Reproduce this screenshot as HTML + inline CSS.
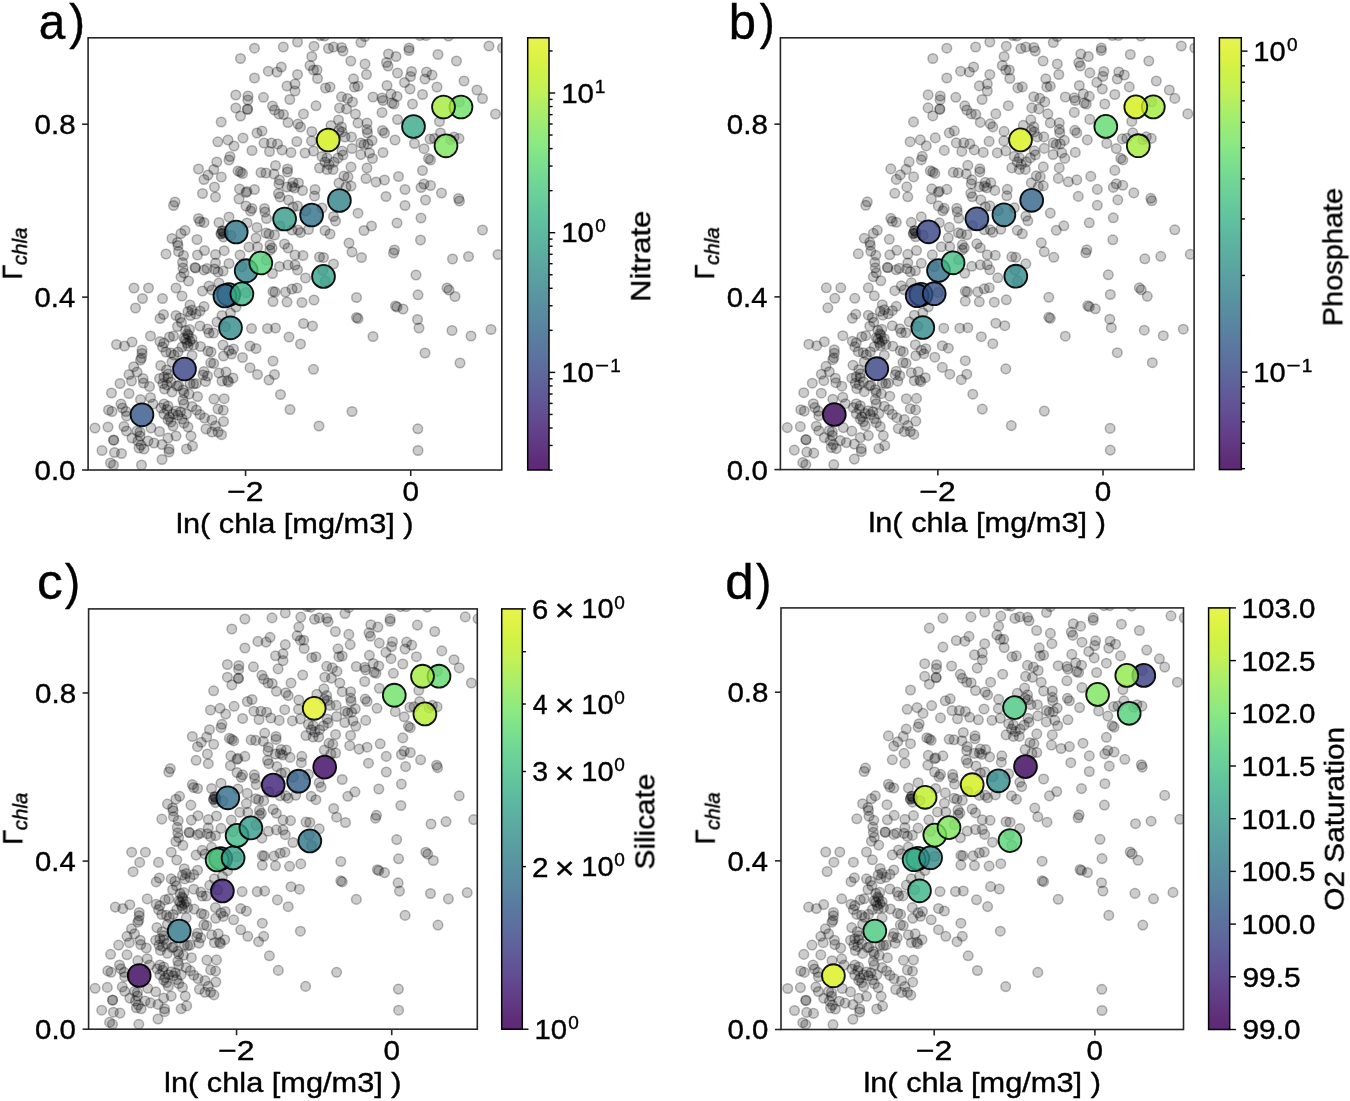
<!DOCTYPE html>
<html><head><meta charset="utf-8"><style>
html,body{margin:0;padding:0;background:#fff;width:1350px;height:1101px;overflow:hidden}
svg{display:block;font-family:"Liberation Sans", sans-serif}
text{will-change:transform;stroke:#000;stroke-width:0.4px}
</style></head><body>
<svg width="1350" height="1101" viewBox="0 0 1350 1101">
<rect width="1350" height="1101" fill="#fff"/>
<defs><linearGradient id="vir" x1="0" y1="1" x2="0" y2="0"><stop offset="0.0000" stop-color="#5e2876"/><stop offset="0.0250" stop-color="#5f2d78"/><stop offset="0.0500" stop-color="#61357f"/><stop offset="0.0750" stop-color="#623d87"/><stop offset="0.1000" stop-color="#62448c"/><stop offset="0.1250" stop-color="#624c92"/><stop offset="0.1500" stop-color="#625396"/><stop offset="0.1750" stop-color="#615a98"/><stop offset="0.2000" stop-color="#5f629b"/><stop offset="0.2250" stop-color="#5e699d"/><stop offset="0.2500" stop-color="#5c709e"/><stop offset="0.2750" stop-color="#5b769f"/><stop offset="0.3000" stop-color="#5a7c9f"/><stop offset="0.3250" stop-color="#5983a0"/><stop offset="0.3500" stop-color="#5989a0"/><stop offset="0.3750" stop-color="#588fa0"/><stop offset="0.4000" stop-color="#5995a0"/><stop offset="0.4250" stop-color="#5a9ba1"/><stop offset="0.4500" stop-color="#5aa1a1"/><stop offset="0.4750" stop-color="#5ba7a1"/><stop offset="0.5000" stop-color="#5caea0"/><stop offset="0.5250" stop-color="#5cb4a0"/><stop offset="0.5500" stop-color="#5dbaa0"/><stop offset="0.5750" stop-color="#5fc19f"/><stop offset="0.6000" stop-color="#63c69d"/><stop offset="0.6250" stop-color="#69cd9b"/><stop offset="0.6500" stop-color="#6dd298"/><stop offset="0.6750" stop-color="#72d894"/><stop offset="0.7000" stop-color="#79de8f"/><stop offset="0.7250" stop-color="#80e38a"/><stop offset="0.7500" stop-color="#8ae884"/><stop offset="0.7750" stop-color="#93ea7c"/><stop offset="0.8000" stop-color="#9dec74"/><stop offset="0.8250" stop-color="#a9ee6b"/><stop offset="0.8500" stop-color="#b4ef61"/><stop offset="0.8750" stop-color="#c1f057"/><stop offset="0.9000" stop-color="#caf14f"/><stop offset="0.9250" stop-color="#d1f148"/><stop offset="0.9500" stop-color="#dbf244"/><stop offset="0.9750" stop-color="#e2f347"/><stop offset="1.0000" stop-color="#e8f34f"/></linearGradient></defs>
<clipPath id="clipa"><rect x="88.10" y="37.80" width="413.70" height="432.20"/></clipPath>
<g clip-path="url(#clipa)"><g fill="#000" fill-opacity="0.2" stroke="#000" stroke-opacity="0.28" stroke-width="1.5"><circle cx="221.2" cy="122.0" r="4.8"/><circle cx="217.8" cy="141.8" r="4.8"/><circle cx="254.5" cy="48.2" r="4.8"/><circle cx="240.5" cy="58.5" r="4.8"/><circle cx="283.3" cy="47.0" r="4.8"/><circle cx="297.5" cy="42.0" r="4.8"/><circle cx="314.0" cy="46.2" r="4.8"/><circle cx="320.5" cy="35.5" r="4.8"/><circle cx="324.5" cy="36.0" r="4.8"/><circle cx="328.5" cy="48.5" r="4.8"/><circle cx="333.5" cy="47.0" r="4.8"/><circle cx="341.5" cy="47.5" r="4.8"/><circle cx="343.0" cy="51.0" r="4.8"/><circle cx="311.8" cy="56.5" r="4.8"/><circle cx="350.8" cy="61.0" r="4.8"/><circle cx="281.3" cy="67.0" r="4.8"/><circle cx="268.3" cy="71.2" r="4.8"/><circle cx="277.0" cy="72.0" r="4.8"/><circle cx="297.5" cy="74.5" r="4.8"/><circle cx="310.0" cy="65.5" r="4.8"/><circle cx="313.5" cy="70.0" r="4.8"/><circle cx="317.0" cy="70.0" r="4.8"/><circle cx="317.5" cy="78.5" r="4.8"/><circle cx="254.5" cy="78.0" r="4.8"/><circle cx="287.0" cy="86.0" r="4.8"/><circle cx="295.0" cy="84.0" r="4.8"/><circle cx="295.0" cy="91.0" r="4.8"/><circle cx="325.5" cy="88.0" r="4.8"/><circle cx="330.0" cy="87.0" r="4.8"/><circle cx="353.5" cy="78.8" r="4.8"/><circle cx="354.5" cy="87.0" r="4.8"/><circle cx="235.8" cy="95.0" r="4.8"/><circle cx="248.0" cy="96.0" r="4.8"/><circle cx="247.8" cy="100.0" r="4.8"/><circle cx="263.5" cy="97.3" r="4.8"/><circle cx="289.8" cy="99.5" r="4.8"/><circle cx="235.8" cy="108.0" r="4.8"/><circle cx="247.5" cy="109.0" r="4.8"/><circle cx="247.5" cy="109.5" r="4.8"/><circle cx="240.5" cy="116.0" r="4.8"/><circle cx="272.5" cy="106.0" r="4.8"/><circle cx="274.5" cy="110.0" r="4.8"/><circle cx="279.0" cy="114.0" r="4.8"/><circle cx="283.5" cy="114.5" r="4.8"/><circle cx="288.0" cy="122.5" r="4.8"/><circle cx="298.0" cy="124.0" r="4.8"/><circle cx="300.5" cy="127.0" r="4.8"/><circle cx="303.5" cy="114.0" r="4.8"/><circle cx="316.0" cy="105.8" r="4.8"/><circle cx="341.5" cy="96.8" r="4.8"/><circle cx="347.5" cy="98.5" r="4.8"/><circle cx="352.5" cy="102.0" r="4.8"/><circle cx="339.5" cy="108.0" r="4.8"/><circle cx="346.5" cy="109.0" r="4.8"/><circle cx="355.5" cy="114.0" r="4.8"/><circle cx="358.0" cy="123.0" r="4.8"/><circle cx="338.5" cy="120.0" r="4.8"/><circle cx="331.0" cy="125.5" r="4.8"/><circle cx="341.5" cy="127.0" r="4.8"/><circle cx="339.0" cy="130.5" r="4.8"/><circle cx="342.0" cy="132.0" r="4.8"/><circle cx="311.8" cy="131.5" r="4.8"/><circle cx="345.0" cy="137.0" r="4.8"/><circle cx="351.5" cy="137.0" r="4.8"/><circle cx="257.0" cy="133.0" r="4.8"/><circle cx="262.0" cy="131.0" r="4.8"/><circle cx="243.0" cy="138.0" r="4.8"/><circle cx="228.0" cy="140.0" r="4.8"/><circle cx="234.0" cy="146.0" r="4.8"/><circle cx="264.0" cy="143.0" r="4.8"/><circle cx="271.5" cy="143.0" r="4.8"/><circle cx="277.5" cy="144.0" r="4.8"/><circle cx="296.8" cy="141.5" r="4.8"/><circle cx="311.5" cy="141.0" r="4.8"/><circle cx="358.0" cy="86.2" r="4.8"/><circle cx="361.0" cy="42.5" r="4.8"/><circle cx="365.0" cy="36.5" r="4.8"/><circle cx="420.0" cy="35.5" r="4.8"/><circle cx="426.0" cy="35.5" r="4.8"/><circle cx="448.5" cy="36.0" r="4.8"/><circle cx="409.0" cy="48.0" r="4.8"/><circle cx="409.0" cy="50.5" r="4.8"/><circle cx="388.5" cy="54.0" r="4.8"/><circle cx="396.0" cy="56.5" r="4.8"/><circle cx="386.5" cy="62.5" r="4.8"/><circle cx="388.0" cy="66.0" r="4.8"/><circle cx="365.0" cy="64.0" r="4.8"/><circle cx="366.5" cy="74.5" r="4.8"/><circle cx="397.5" cy="73.0" r="4.8"/><circle cx="411.5" cy="71.5" r="4.8"/><circle cx="410.5" cy="76.5" r="4.8"/><circle cx="404.5" cy="82.5" r="4.8"/><circle cx="410.0" cy="89.0" r="4.8"/><circle cx="426.5" cy="72.0" r="4.8"/><circle cx="432.0" cy="75.0" r="4.8"/><circle cx="425.0" cy="79.0" r="4.8"/><circle cx="437.0" cy="87.0" r="4.8"/><circle cx="422.5" cy="94.5" r="4.8"/><circle cx="438.0" cy="54.5" r="4.8"/><circle cx="456.5" cy="61.0" r="4.8"/><circle cx="489.0" cy="46.0" r="4.8"/><circle cx="464.0" cy="81.0" r="4.8"/><circle cx="477.0" cy="90.0" r="4.8"/><circle cx="482.5" cy="98.5" r="4.8"/><circle cx="387.0" cy="85.5" r="4.8"/><circle cx="373.0" cy="97.0" r="4.8"/><circle cx="382.0" cy="98.0" r="4.8"/><circle cx="383.0" cy="100.5" r="4.8"/><circle cx="391.0" cy="94.0" r="4.8"/><circle cx="397.0" cy="96.5" r="4.8"/><circle cx="392.0" cy="103.0" r="4.8"/><circle cx="394.0" cy="104.0" r="4.8"/><circle cx="412.5" cy="104.0" r="4.8"/><circle cx="382.0" cy="112.5" r="4.8"/><circle cx="397.5" cy="119.5" r="4.8"/><circle cx="367.0" cy="123.0" r="4.8"/><circle cx="367.0" cy="129.5" r="4.8"/><circle cx="367.5" cy="133.0" r="4.8"/><circle cx="382.5" cy="130.5" r="4.8"/><circle cx="384.5" cy="133.0" r="4.8"/><circle cx="372.0" cy="140.5" r="4.8"/><circle cx="395.0" cy="140.0" r="4.8"/><circle cx="414.5" cy="143.5" r="4.8"/><circle cx="424.0" cy="148.7" r="4.8"/><circle cx="430.0" cy="139.0" r="4.8"/><circle cx="434.5" cy="138.5" r="4.8"/><circle cx="440.5" cy="133.0" r="4.8"/><circle cx="454.0" cy="137.0" r="4.8"/><circle cx="459.0" cy="138.5" r="4.8"/><circle cx="439.5" cy="121.5" r="4.8"/><circle cx="361.0" cy="143.0" r="4.8"/><circle cx="364.0" cy="144.5" r="4.8"/><circle cx="368.0" cy="144.0" r="4.8"/><circle cx="502.5" cy="48.0" r="4.8"/><circle cx="495.5" cy="114.0" r="4.8"/><circle cx="216.8" cy="162.0" r="4.8"/><circle cx="213.8" cy="169.5" r="4.8"/><circle cx="208.0" cy="175.0" r="4.8"/><circle cx="204.0" cy="179.5" r="4.8"/><circle cx="221.3" cy="177.0" r="4.8"/><circle cx="198.5" cy="169.0" r="4.8"/><circle cx="214.5" cy="187.0" r="4.8"/><circle cx="202.5" cy="193.5" r="4.8"/><circle cx="215.5" cy="197.0" r="4.8"/><circle cx="175.0" cy="202.0" r="4.8"/><circle cx="173.5" cy="205.5" r="4.8"/><circle cx="198.5" cy="218.5" r="4.8"/><circle cx="200.0" cy="221.5" r="4.8"/><circle cx="204.0" cy="222.5" r="4.8"/><circle cx="219.0" cy="222.5" r="4.8"/><circle cx="222.5" cy="231.0" r="4.8"/><circle cx="221.0" cy="234.0" r="4.8"/><circle cx="223.3" cy="237.0" r="4.8"/><circle cx="185.0" cy="230.5" r="4.8"/><circle cx="181.0" cy="233.5" r="4.8"/><circle cx="172.0" cy="238.5" r="4.8"/><circle cx="177.5" cy="242.5" r="4.8"/><circle cx="178.0" cy="245.5" r="4.8"/><circle cx="197.0" cy="239.5" r="4.8"/><circle cx="166.0" cy="254.0" r="4.8"/><circle cx="178.5" cy="251.5" r="4.8"/><circle cx="183.5" cy="255.5" r="4.8"/><circle cx="204.5" cy="250.5" r="4.8"/><circle cx="197.5" cy="255.0" r="4.8"/><circle cx="215.5" cy="254.5" r="4.8"/><circle cx="224.2" cy="250.7" r="4.8"/><circle cx="252.0" cy="150.5" r="4.8"/><circle cx="269.5" cy="151.5" r="4.8"/><circle cx="282.0" cy="150.0" r="4.8"/><circle cx="291.0" cy="152.5" r="4.8"/><circle cx="305.0" cy="153.0" r="4.8"/><circle cx="313.5" cy="151.0" r="4.8"/><circle cx="342.0" cy="151.0" r="4.8"/><circle cx="343.0" cy="155.0" r="4.8"/><circle cx="352.0" cy="148.5" r="4.8"/><circle cx="360.8" cy="154.6" r="4.8"/><circle cx="230.0" cy="156.5" r="4.8"/><circle cx="229.0" cy="160.0" r="4.8"/><circle cx="238.0" cy="171.0" r="4.8"/><circle cx="240.5" cy="172.0" r="4.8"/><circle cx="242.5" cy="173.5" r="4.8"/><circle cx="261.0" cy="172.5" r="4.8"/><circle cx="266.0" cy="173.0" r="4.8"/><circle cx="274.0" cy="174.0" r="4.8"/><circle cx="275.5" cy="165.5" r="4.8"/><circle cx="287.5" cy="169.0" r="4.8"/><circle cx="287.5" cy="172.0" r="4.8"/><circle cx="279.5" cy="180.0" r="4.8"/><circle cx="279.0" cy="184.0" r="4.8"/><circle cx="293.0" cy="182.5" r="4.8"/><circle cx="298.5" cy="183.0" r="4.8"/><circle cx="294.5" cy="188.0" r="4.8"/><circle cx="292.0" cy="186.5" r="4.8"/><circle cx="302.5" cy="190.5" r="4.8"/><circle cx="287.0" cy="187.0" r="4.8"/><circle cx="239.5" cy="189.0" r="4.8"/><circle cx="246.0" cy="192.5" r="4.8"/><circle cx="247.0" cy="191.5" r="4.8"/><circle cx="254.5" cy="189.5" r="4.8"/><circle cx="239.0" cy="199.0" r="4.8"/><circle cx="278.5" cy="193.5" r="4.8"/><circle cx="280.0" cy="197.0" r="4.8"/><circle cx="288.5" cy="200.0" r="4.8"/><circle cx="315.0" cy="189.5" r="4.8"/><circle cx="314.5" cy="196.0" r="4.8"/><circle cx="322.0" cy="156.5" r="4.8"/><circle cx="327.0" cy="158.0" r="4.8"/><circle cx="325.0" cy="162.0" r="4.8"/><circle cx="329.0" cy="164.5" r="4.8"/><circle cx="334.0" cy="162.0" r="4.8"/><circle cx="333.0" cy="169.5" r="4.8"/><circle cx="327.0" cy="169.5" r="4.8"/><circle cx="319.5" cy="168.0" r="4.8"/><circle cx="338.0" cy="158.0" r="4.8"/><circle cx="351.0" cy="167.0" r="4.8"/><circle cx="348.0" cy="177.0" r="4.8"/><circle cx="344.0" cy="176.0" r="4.8"/><circle cx="339.0" cy="183.0" r="4.8"/><circle cx="351.0" cy="186.0" r="4.8"/><circle cx="346.0" cy="187.0" r="4.8"/><circle cx="246.0" cy="206.0" r="4.8"/><circle cx="252.0" cy="208.5" r="4.8"/><circle cx="250.5" cy="211.0" r="4.8"/><circle cx="264.5" cy="208.5" r="4.8"/><circle cx="265.0" cy="212.0" r="4.8"/><circle cx="266.5" cy="218.5" r="4.8"/><circle cx="229.0" cy="217.0" r="4.8"/><circle cx="247.0" cy="223.0" r="4.8"/><circle cx="257.0" cy="227.5" r="4.8"/><circle cx="297.5" cy="206.0" r="4.8"/><circle cx="293.0" cy="207.0" r="4.8"/><circle cx="322.0" cy="208.0" r="4.8"/><circle cx="333.5" cy="216.5" r="4.8"/><circle cx="335.5" cy="221.0" r="4.8"/><circle cx="358.0" cy="213.2" r="4.8"/><circle cx="325.0" cy="230.5" r="4.8"/><circle cx="330.0" cy="234.0" r="4.8"/><circle cx="292.0" cy="230.0" r="4.8"/><circle cx="298.0" cy="230.0" r="4.8"/><circle cx="300.5" cy="232.5" r="4.8"/><circle cx="308.5" cy="229.5" r="4.8"/><circle cx="266.0" cy="233.0" r="4.8"/><circle cx="274.5" cy="235.0" r="4.8"/><circle cx="269.0" cy="234.0" r="4.8"/><circle cx="256.0" cy="238.0" r="4.8"/><circle cx="249.0" cy="247.0" r="4.8"/><circle cx="257.5" cy="247.0" r="4.8"/><circle cx="270.0" cy="245.0" r="4.8"/><circle cx="272.0" cy="248.0" r="4.8"/><circle cx="270.0" cy="250.0" r="4.8"/><circle cx="284.5" cy="244.0" r="4.8"/><circle cx="288.0" cy="248.0" r="4.8"/><circle cx="240.0" cy="255.0" r="4.8"/><circle cx="349.0" cy="243.0" r="4.8"/><circle cx="352.0" cy="252.0" r="4.8"/><circle cx="295.0" cy="255.0" r="4.8"/><circle cx="303.0" cy="255.5" r="4.8"/><circle cx="319.5" cy="257.0" r="4.8"/><circle cx="323.5" cy="257.5" r="4.8"/><circle cx="369.5" cy="153.0" r="4.8"/><circle cx="372.5" cy="158.5" r="4.8"/><circle cx="383.0" cy="152.5" r="4.8"/><circle cx="428.5" cy="158.5" r="4.8"/><circle cx="430.5" cy="160.0" r="4.8"/><circle cx="367.0" cy="168.0" r="4.8"/><circle cx="366.0" cy="178.5" r="4.8"/><circle cx="376.0" cy="182.0" r="4.8"/><circle cx="384.5" cy="180.0" r="4.8"/><circle cx="398.5" cy="176.5" r="4.8"/><circle cx="422.5" cy="170.5" r="4.8"/><circle cx="424.0" cy="184.0" r="4.8"/><circle cx="421.0" cy="187.5" r="4.8"/><circle cx="430.5" cy="185.5" r="4.8"/><circle cx="405.0" cy="189.5" r="4.8"/><circle cx="441.5" cy="193.0" r="4.8"/><circle cx="458.5" cy="198.5" r="4.8"/><circle cx="459.5" cy="201.0" r="4.8"/><circle cx="386.0" cy="196.5" r="4.8"/><circle cx="425.5" cy="200.0" r="4.8"/><circle cx="405.0" cy="205.5" r="4.8"/><circle cx="421.0" cy="218.0" r="4.8"/><circle cx="397.0" cy="223.0" r="4.8"/><circle cx="371.5" cy="226.0" r="4.8"/><circle cx="364.0" cy="230.5" r="4.8"/><circle cx="482.5" cy="230.0" r="4.8"/><circle cx="420.5" cy="240.0" r="4.8"/><circle cx="394.5" cy="250.0" r="4.8"/><circle cx="393.5" cy="253.0" r="4.8"/><circle cx="361.5" cy="257.5" r="4.8"/><circle cx="452.5" cy="259.0" r="4.8"/><circle cx="468.5" cy="256.5" r="4.8"/><circle cx="498.0" cy="254.5" r="4.8"/><circle cx="182.5" cy="262.5" r="4.8"/><circle cx="183.0" cy="268.0" r="4.8"/><circle cx="184.0" cy="273.0" r="4.8"/><circle cx="181.0" cy="277.0" r="4.8"/><circle cx="188.5" cy="281.0" r="4.8"/><circle cx="195.0" cy="267.5" r="4.8"/><circle cx="195.5" cy="268.0" r="4.8"/><circle cx="204.0" cy="270.0" r="4.8"/><circle cx="207.0" cy="268.5" r="4.8"/><circle cx="215.5" cy="263.0" r="4.8"/><circle cx="214.5" cy="269.0" r="4.8"/><circle cx="218.0" cy="272.0" r="4.8"/><circle cx="223.1" cy="271.0" r="4.8"/><circle cx="134.0" cy="288.0" r="4.8"/><circle cx="148.5" cy="288.0" r="4.8"/><circle cx="142.5" cy="298.5" r="4.8"/><circle cx="162.5" cy="298.5" r="4.8"/><circle cx="135.5" cy="308.0" r="4.8"/><circle cx="176.0" cy="288.0" r="4.8"/><circle cx="182.0" cy="296.0" r="4.8"/><circle cx="202.5" cy="291.0" r="4.8"/><circle cx="209.0" cy="286.0" r="4.8"/><circle cx="212.0" cy="290.0" r="4.8"/><circle cx="219.0" cy="283.0" r="4.8"/><circle cx="190.0" cy="305.0" r="4.8"/><circle cx="188.0" cy="311.5" r="4.8"/><circle cx="192.0" cy="310.0" r="4.8"/><circle cx="190.5" cy="315.5" r="4.8"/><circle cx="196.0" cy="314.0" r="4.8"/><circle cx="200.0" cy="311.0" r="4.8"/><circle cx="204.0" cy="306.5" r="4.8"/><circle cx="163.5" cy="314.5" r="4.8"/><circle cx="160.0" cy="318.5" r="4.8"/><circle cx="176.0" cy="315.5" r="4.8"/><circle cx="180.0" cy="318.0" r="4.8"/><circle cx="181.5" cy="322.5" r="4.8"/><circle cx="177.5" cy="326.5" r="4.8"/><circle cx="185.5" cy="330.5" r="4.8"/><circle cx="189.5" cy="329.5" r="4.8"/><circle cx="188.5" cy="335.5" r="4.8"/><circle cx="184.0" cy="338.0" r="4.8"/><circle cx="192.0" cy="339.0" r="4.8"/><circle cx="187.0" cy="343.0" r="4.8"/><circle cx="193.5" cy="345.0" r="4.8"/><circle cx="200.0" cy="326.0" r="4.8"/><circle cx="207.5" cy="329.0" r="4.8"/><circle cx="209.0" cy="333.0" r="4.8"/><circle cx="213.5" cy="333.0" r="4.8"/><circle cx="217.0" cy="322.0" r="4.8"/><circle cx="222.0" cy="315.5" r="4.8"/><circle cx="150.5" cy="336.0" r="4.8"/><circle cx="132.0" cy="342.0" r="4.8"/><circle cx="116.5" cy="344.5" r="4.8"/><circle cx="124.5" cy="346.0" r="4.8"/><circle cx="142.0" cy="350.0" r="4.8"/><circle cx="142.0" cy="353.5" r="4.8"/><circle cx="141.5" cy="358.0" r="4.8"/><circle cx="140.5" cy="360.0" r="4.8"/><circle cx="160.0" cy="341.5" r="4.8"/><circle cx="164.0" cy="343.0" r="4.8"/><circle cx="162.5" cy="347.0" r="4.8"/><circle cx="169.5" cy="337.0" r="4.8"/><circle cx="173.5" cy="336.0" r="4.8"/><circle cx="166.0" cy="352.0" r="4.8"/><circle cx="171.0" cy="353.0" r="4.8"/><circle cx="174.0" cy="355.0" r="4.8"/><circle cx="178.0" cy="352.0" r="4.8"/><circle cx="182.0" cy="347.0" r="4.8"/><circle cx="188.0" cy="346.0" r="4.8"/><circle cx="200.5" cy="346.5" r="4.8"/><circle cx="208.0" cy="351.0" r="4.8"/><circle cx="211.0" cy="352.0" r="4.8"/><circle cx="223.0" cy="345.0" r="4.8"/><circle cx="223.5" cy="356.0" r="4.8"/><circle cx="192.0" cy="355.5" r="4.8"/><circle cx="213.7" cy="363.5" r="4.8"/><circle cx="210.7" cy="362.8" r="4.8"/><circle cx="160.7" cy="365.5" r="4.8"/><circle cx="133.7" cy="366.7" r="4.8"/><circle cx="172.0" cy="362.0" r="4.8"/><circle cx="229.0" cy="263.5" r="4.8"/><circle cx="279.5" cy="266.5" r="4.8"/><circle cx="288.0" cy="265.0" r="4.8"/><circle cx="295.0" cy="265.0" r="4.8"/><circle cx="297.5" cy="270.0" r="4.8"/><circle cx="272.5" cy="273.5" r="4.8"/><circle cx="305.5" cy="278.0" r="4.8"/><circle cx="333.5" cy="264.0" r="4.8"/><circle cx="273.0" cy="291.5" r="4.8"/><circle cx="275.0" cy="292.0" r="4.8"/><circle cx="285.5" cy="292.0" r="4.8"/><circle cx="292.0" cy="289.0" r="4.8"/><circle cx="297.0" cy="288.0" r="4.8"/><circle cx="273.0" cy="301.5" r="4.8"/><circle cx="287.0" cy="302.0" r="4.8"/><circle cx="302.0" cy="302.5" r="4.8"/><circle cx="314.0" cy="300.0" r="4.8"/><circle cx="356.5" cy="297.5" r="4.8"/><circle cx="356.5" cy="317.5" r="4.8"/><circle cx="358.0" cy="318.5" r="4.8"/><circle cx="236.0" cy="307.0" r="4.8"/><circle cx="230.5" cy="313.0" r="4.8"/><circle cx="251.5" cy="328.5" r="4.8"/><circle cx="267.5" cy="328.5" r="4.8"/><circle cx="275.5" cy="328.0" r="4.8"/><circle cx="303.5" cy="323.5" r="4.8"/><circle cx="312.5" cy="326.0" r="4.8"/><circle cx="289.0" cy="337.0" r="4.8"/><circle cx="300.5" cy="344.0" r="4.8"/><circle cx="250.0" cy="346.0" r="4.8"/><circle cx="256.0" cy="348.5" r="4.8"/><circle cx="233.5" cy="349.0" r="4.8"/><circle cx="229.0" cy="350.5" r="4.8"/><circle cx="231.5" cy="354.0" r="4.8"/><circle cx="242.5" cy="357.5" r="4.8"/><circle cx="273.0" cy="361.0" r="4.8"/><circle cx="250.0" cy="367.7" r="4.8"/><circle cx="313.5" cy="369.3" r="4.8"/><circle cx="416.0" cy="275.0" r="4.8"/><circle cx="418.0" cy="294.8" r="4.8"/><circle cx="447.0" cy="288.0" r="4.8"/><circle cx="449.0" cy="290.0" r="4.8"/><circle cx="455.0" cy="296.5" r="4.8"/><circle cx="395.5" cy="306.0" r="4.8"/><circle cx="397.0" cy="307.0" r="4.8"/><circle cx="403.0" cy="309.0" r="4.8"/><circle cx="417.5" cy="319.5" r="4.8"/><circle cx="419.0" cy="328.0" r="4.8"/><circle cx="373.0" cy="336.5" r="4.8"/><circle cx="452.0" cy="330.5" r="4.8"/><circle cx="471.0" cy="336.0" r="4.8"/><circle cx="491.0" cy="329.5" r="4.8"/><circle cx="425.0" cy="353.0" r="4.8"/><circle cx="460.0" cy="363.0" r="4.8"/><circle cx="137.0" cy="372.0" r="4.8"/><circle cx="129.0" cy="374.5" r="4.8"/><circle cx="131.5" cy="381.0" r="4.8"/><circle cx="143.0" cy="378.5" r="4.8"/><circle cx="143.5" cy="383.0" r="4.8"/><circle cx="149.5" cy="386.5" r="4.8"/><circle cx="120.0" cy="383.5" r="4.8"/><circle cx="111.5" cy="393.0" r="4.8"/><circle cx="129.0" cy="393.5" r="4.8"/><circle cx="166.5" cy="370.0" r="4.8"/><circle cx="168.0" cy="374.0" r="4.8"/><circle cx="159.5" cy="378.5" r="4.8"/><circle cx="164.0" cy="377.0" r="4.8"/><circle cx="168.0" cy="378.0" r="4.8"/><circle cx="163.0" cy="383.5" r="4.8"/><circle cx="167.0" cy="385.0" r="4.8"/><circle cx="171.0" cy="382.0" r="4.8"/><circle cx="164.5" cy="389.0" r="4.8"/><circle cx="172.0" cy="392.0" r="4.8"/><circle cx="177.0" cy="386.0" r="4.8"/><circle cx="178.5" cy="385.5" r="4.8"/><circle cx="183.0" cy="390.0" r="4.8"/><circle cx="184.0" cy="393.0" r="4.8"/><circle cx="189.0" cy="394.0" r="4.8"/><circle cx="190.0" cy="383.5" r="4.8"/><circle cx="193.5" cy="384.0" r="4.8"/><circle cx="196.0" cy="383.5" r="4.8"/><circle cx="197.5" cy="396.5" r="4.8"/><circle cx="204.0" cy="371.5" r="4.8"/><circle cx="203.0" cy="375.0" r="4.8"/><circle cx="207.5" cy="376.0" r="4.8"/><circle cx="205.5" cy="381.5" r="4.8"/><circle cx="219.0" cy="373.0" r="4.8"/><circle cx="222.0" cy="381.0" r="4.8"/><circle cx="214.0" cy="399.0" r="4.8"/><circle cx="224.2" cy="398.7" r="4.8"/><circle cx="218.0" cy="409.0" r="4.8"/><circle cx="223.3" cy="410.3" r="4.8"/><circle cx="183.0" cy="400.0" r="4.8"/><circle cx="184.0" cy="404.0" r="4.8"/><circle cx="192.0" cy="406.5" r="4.8"/><circle cx="196.5" cy="410.0" r="4.8"/><circle cx="200.0" cy="414.5" r="4.8"/><circle cx="204.5" cy="418.0" r="4.8"/><circle cx="212.0" cy="420.0" r="4.8"/><circle cx="215.5" cy="426.0" r="4.8"/><circle cx="218.0" cy="432.0" r="4.8"/><circle cx="221.5" cy="434.7" r="4.8"/><circle cx="206.0" cy="429.0" r="4.8"/><circle cx="212.0" cy="432.0" r="4.8"/><circle cx="150.5" cy="397.5" r="4.8"/><circle cx="153.0" cy="404.0" r="4.8"/><circle cx="140.5" cy="399.5" r="4.8"/><circle cx="121.0" cy="404.0" r="4.8"/><circle cx="122.5" cy="408.0" r="4.8"/><circle cx="126.0" cy="411.5" r="4.8"/><circle cx="126.5" cy="416.0" r="4.8"/><circle cx="108.5" cy="410.0" r="4.8"/><circle cx="112.0" cy="411.5" r="4.8"/><circle cx="164.0" cy="404.0" r="4.8"/><circle cx="168.0" cy="406.0" r="4.8"/><circle cx="161.0" cy="408.0" r="4.8"/><circle cx="167.0" cy="409.5" r="4.8"/><circle cx="164.0" cy="414.0" r="4.8"/><circle cx="169.5" cy="417.0" r="4.8"/><circle cx="173.0" cy="414.0" r="4.8"/><circle cx="176.0" cy="411.0" r="4.8"/><circle cx="171.0" cy="422.0" r="4.8"/><circle cx="173.0" cy="426.0" r="4.8"/><circle cx="168.0" cy="419.5" r="4.8"/><circle cx="178.0" cy="415.0" r="4.8"/><circle cx="182.0" cy="419.0" r="4.8"/><circle cx="184.0" cy="423.0" r="4.8"/><circle cx="186.5" cy="414.0" r="4.8"/><circle cx="188.0" cy="427.0" r="4.8"/><circle cx="180.5" cy="412.0" r="4.8"/><circle cx="95.0" cy="428.0" r="4.8"/><circle cx="108.0" cy="427.0" r="4.8"/><circle cx="124.0" cy="426.5" r="4.8"/><circle cx="126.5" cy="431.0" r="4.8"/><circle cx="132.0" cy="438.0" r="4.8"/><circle cx="137.0" cy="431.0" r="4.8"/><circle cx="140.0" cy="432.0" r="4.8"/><circle cx="140.0" cy="436.0" r="4.8"/><circle cx="138.0" cy="441.0" r="4.8"/><circle cx="141.0" cy="445.0" r="4.8"/><circle cx="139.0" cy="448.0" r="4.8"/><circle cx="144.0" cy="449.0" r="4.8"/><circle cx="113.5" cy="440.0" r="4.8"/><circle cx="113.8" cy="440.2" r="4.8"/><circle cx="102.0" cy="450.5" r="4.8"/><circle cx="114.5" cy="452.5" r="4.8"/><circle cx="121.5" cy="453.5" r="4.8"/><circle cx="110.5" cy="463.0" r="4.8"/><circle cx="113.5" cy="465.0" r="4.8"/><circle cx="151.0" cy="428.0" r="4.8"/><circle cx="159.5" cy="431.5" r="4.8"/><circle cx="154.0" cy="443.0" r="4.8"/><circle cx="148.0" cy="441.0" r="4.8"/><circle cx="162.0" cy="444.5" r="4.8"/><circle cx="168.0" cy="438.0" r="4.8"/><circle cx="169.0" cy="449.0" r="4.8"/><circle cx="169.0" cy="452.0" r="4.8"/><circle cx="176.0" cy="436.0" r="4.8"/><circle cx="191.0" cy="436.0" r="4.8"/><circle cx="186.5" cy="449.0" r="4.8"/><circle cx="192.5" cy="446.0" r="4.8"/><circle cx="162.0" cy="459.5" r="4.8"/><circle cx="141.5" cy="465.0" r="4.8"/><circle cx="257.5" cy="374.5" r="4.8"/><circle cx="269.0" cy="380.0" r="4.8"/><circle cx="274.5" cy="374.5" r="4.8"/><circle cx="226.0" cy="372.0" r="4.8"/><circle cx="233.0" cy="378.0" r="4.8"/><circle cx="227.5" cy="380.5" r="4.8"/><circle cx="228.5" cy="382.0" r="4.8"/><circle cx="280.5" cy="394.5" r="4.8"/><circle cx="290.0" cy="409.5" r="4.8"/><circle cx="319.0" cy="426.0" r="4.8"/><circle cx="352.0" cy="411.5" r="4.8"/><circle cx="223.5" cy="421.5" r="4.8"/><circle cx="417.8" cy="428.8" r="4.8"/><circle cx="418.0" cy="450.5" r="4.8"/><circle cx="187.5" cy="334.0" r="4.8"/><circle cx="185.5" cy="339.5" r="4.8"/><circle cx="190.0" cy="341.0" r="4.8"/><circle cx="450.6" cy="139.6" r="4.8"/><circle cx="459.3" cy="101.9" r="4.8"/><circle cx="222.2" cy="230.9" r="4.8"/><circle cx="223.8" cy="232.8" r="4.8"/><circle cx="221.2" cy="233.4" r="4.8"/><circle cx="322.7" cy="270.4" r="4.8"/><circle cx="325.3" cy="281.1" r="4.8"/><circle cx="230.9" cy="235.4" r="4.8"/><circle cx="280.0" cy="226.0" r="4.8"/><circle cx="305.8" cy="210.9" r="4.8"/><circle cx="266.3" cy="260.0" r="4.8"/><circle cx="241.8" cy="266.8" r="4.8"/><circle cx="235.0" cy="294.0" r="4.8"/><circle cx="245.9" cy="292.6" r="4.8"/><circle cx="225.4" cy="326.7" r="4.8"/></g><g fill-opacity="0.8" stroke="#000" stroke-opacity="0.92" stroke-width="1.8"><circle cx="142.0" cy="414.8" r="11.45" fill="#325587"/><circle cx="184.5" cy="369.0" r="11.45" fill="#364183"/><circle cx="230.5" cy="327.8" r="11.45" fill="#318a8a"/><circle cx="228.7" cy="294.6" r="11.45" fill="#2e7488"/><circle cx="224.9" cy="295.9" r="11.45" fill="#306588"/><circle cx="241.9" cy="293.9" r="11.45" fill="#38b386"/><circle cx="246.2" cy="270.7" r="11.45" fill="#30818a"/><circle cx="260.8" cy="263.0" r="11.45" fill="#51d078"/><circle cx="236.2" cy="232.0" r="11.45" fill="#2e7488"/><circle cx="284.6" cy="219.0" r="11.45" fill="#339a88"/><circle cx="311.6" cy="215.0" r="11.45" fill="#2e6e88"/><circle cx="339.4" cy="200.5" r="11.45" fill="#30818a"/><circle cx="323.5" cy="276.4" r="11.45" fill="#33a088"/><circle cx="328.2" cy="140.0" r="11.45" fill="#d2ef15"/><circle cx="413.5" cy="126.5" r="11.45" fill="#35a988"/><circle cx="461.0" cy="107.0" r="11.45" fill="#6de265"/><circle cx="443.5" cy="107.0" r="11.45" fill="#a1eb3a"/><circle cx="446.0" cy="145.8" r="11.45" fill="#7be55a"/></g></g>
<line x1="245.57" y1="470.00" x2="245.57" y2="476.00" stroke="#262626" stroke-width="1.6" fill="none"/>
<text x="227.09" y="500.90" font-size="28.20" textLength="36.49" lengthAdjust="spacingAndGlyphs">−2</text>
<line x1="410.72" y1="470.00" x2="410.72" y2="476.00" stroke="#262626" stroke-width="1.6" fill="none"/>
<text x="402.46" y="500.90" font-size="28.20" textLength="16.52" lengthAdjust="spacingAndGlyphs">0</text>
<line x1="82.10" y1="470.00" x2="88.10" y2="470.00" stroke="#262626" stroke-width="1.6" fill="none"/>
<text x="34.55" y="479.90" font-size="28.20" textLength="40.90" lengthAdjust="spacingAndGlyphs">0.0</text>
<line x1="82.10" y1="297.12" x2="88.10" y2="297.12" stroke="#262626" stroke-width="1.6" fill="none"/>
<text x="34.56" y="307.02" font-size="28.20" textLength="40.60" lengthAdjust="spacingAndGlyphs">0.4</text>
<line x1="82.10" y1="124.24" x2="88.10" y2="124.24" stroke="#262626" stroke-width="1.6" fill="none"/>
<text x="34.55" y="134.14" font-size="28.20" textLength="41.04" lengthAdjust="spacingAndGlyphs">0.8</text>
<text x="176.13" y="532.80" font-size="27.40" textLength="237.48" lengthAdjust="spacingAndGlyphs">ln( chla [mg/m3] )</text>
<g transform="translate(21.80 253.90) rotate(-90)"><text x="-25.65" y="0.00" font-size="27.00" textLength="15.11" lengthAdjust="spacingAndGlyphs">Γ</text><text x="-11.27" y="5.00" font-size="20.60" font-style="italic" textLength="37.67" lengthAdjust="spacingAndGlyphs">chla</text></g>
<text x="38.67" y="39.30" font-size="50.00" textLength="26.53" lengthAdjust="spacingAndGlyphs">a</text>
<text x="69.32" y="39.30" font-size="50.00" textLength="15.83" lengthAdjust="spacingAndGlyphs">)</text>
<clipPath id="clipb"><rect x="780.40" y="37.80" width="413.70" height="431.80"/></clipPath>
<g clip-path="url(#clipb)"><g fill="#000" fill-opacity="0.2" stroke="#000" stroke-opacity="0.28" stroke-width="1.5"><circle cx="913.5" cy="121.9" r="4.8"/><circle cx="910.1" cy="141.7" r="4.8"/><circle cx="946.8" cy="48.2" r="4.8"/><circle cx="932.8" cy="58.5" r="4.8"/><circle cx="975.6" cy="47.0" r="4.8"/><circle cx="989.8" cy="42.0" r="4.8"/><circle cx="1006.3" cy="46.2" r="4.8"/><circle cx="1012.8" cy="35.5" r="4.8"/><circle cx="1016.8" cy="36.0" r="4.8"/><circle cx="1020.8" cy="48.5" r="4.8"/><circle cx="1025.8" cy="47.0" r="4.8"/><circle cx="1033.8" cy="47.5" r="4.8"/><circle cx="1035.3" cy="51.0" r="4.8"/><circle cx="1004.1" cy="56.5" r="4.8"/><circle cx="1043.1" cy="61.0" r="4.8"/><circle cx="973.6" cy="67.0" r="4.8"/><circle cx="960.6" cy="71.2" r="4.8"/><circle cx="969.3" cy="72.0" r="4.8"/><circle cx="989.8" cy="74.5" r="4.8"/><circle cx="1002.3" cy="65.5" r="4.8"/><circle cx="1005.8" cy="70.0" r="4.8"/><circle cx="1009.3" cy="70.0" r="4.8"/><circle cx="1009.8" cy="78.5" r="4.8"/><circle cx="946.8" cy="78.0" r="4.8"/><circle cx="979.3" cy="85.9" r="4.8"/><circle cx="987.3" cy="84.0" r="4.8"/><circle cx="987.3" cy="91.0" r="4.8"/><circle cx="1017.8" cy="87.9" r="4.8"/><circle cx="1022.3" cy="86.9" r="4.8"/><circle cx="1045.8" cy="78.8" r="4.8"/><circle cx="1046.8" cy="86.9" r="4.8"/><circle cx="928.1" cy="94.9" r="4.8"/><circle cx="940.3" cy="96.0" r="4.8"/><circle cx="940.1" cy="99.9" r="4.8"/><circle cx="955.8" cy="97.3" r="4.8"/><circle cx="982.1" cy="99.5" r="4.8"/><circle cx="928.1" cy="107.9" r="4.8"/><circle cx="939.8" cy="108.9" r="4.8"/><circle cx="939.8" cy="109.4" r="4.8"/><circle cx="932.8" cy="115.9" r="4.8"/><circle cx="964.8" cy="105.9" r="4.8"/><circle cx="966.8" cy="110.0" r="4.8"/><circle cx="971.3" cy="113.9" r="4.8"/><circle cx="975.8" cy="114.4" r="4.8"/><circle cx="980.3" cy="122.4" r="4.8"/><circle cx="990.3" cy="123.9" r="4.8"/><circle cx="992.8" cy="126.9" r="4.8"/><circle cx="995.8" cy="113.9" r="4.8"/><circle cx="1008.3" cy="105.7" r="4.8"/><circle cx="1033.8" cy="96.7" r="4.8"/><circle cx="1039.8" cy="98.4" r="4.8"/><circle cx="1044.8" cy="101.9" r="4.8"/><circle cx="1031.8" cy="107.9" r="4.8"/><circle cx="1038.8" cy="108.9" r="4.8"/><circle cx="1047.8" cy="113.9" r="4.8"/><circle cx="1050.3" cy="122.9" r="4.8"/><circle cx="1030.8" cy="119.9" r="4.8"/><circle cx="1023.3" cy="125.4" r="4.8"/><circle cx="1033.8" cy="126.9" r="4.8"/><circle cx="1031.3" cy="130.4" r="4.8"/><circle cx="1034.3" cy="131.9" r="4.8"/><circle cx="1004.1" cy="131.4" r="4.8"/><circle cx="1037.3" cy="136.9" r="4.8"/><circle cx="1043.8" cy="136.9" r="4.8"/><circle cx="949.3" cy="132.9" r="4.8"/><circle cx="954.3" cy="130.9" r="4.8"/><circle cx="935.3" cy="137.9" r="4.8"/><circle cx="920.3" cy="139.9" r="4.8"/><circle cx="926.3" cy="145.9" r="4.8"/><circle cx="956.3" cy="142.9" r="4.8"/><circle cx="963.8" cy="142.9" r="4.8"/><circle cx="969.8" cy="143.9" r="4.8"/><circle cx="989.1" cy="141.4" r="4.8"/><circle cx="1003.8" cy="140.9" r="4.8"/><circle cx="1050.3" cy="86.2" r="4.8"/><circle cx="1053.3" cy="42.5" r="4.8"/><circle cx="1057.3" cy="36.5" r="4.8"/><circle cx="1112.3" cy="35.5" r="4.8"/><circle cx="1118.3" cy="35.5" r="4.8"/><circle cx="1140.8" cy="36.0" r="4.8"/><circle cx="1101.3" cy="48.0" r="4.8"/><circle cx="1101.3" cy="50.5" r="4.8"/><circle cx="1080.8" cy="54.0" r="4.8"/><circle cx="1088.3" cy="56.5" r="4.8"/><circle cx="1078.8" cy="62.5" r="4.8"/><circle cx="1080.3" cy="66.0" r="4.8"/><circle cx="1057.3" cy="64.0" r="4.8"/><circle cx="1058.8" cy="74.5" r="4.8"/><circle cx="1089.8" cy="72.9" r="4.8"/><circle cx="1103.8" cy="71.5" r="4.8"/><circle cx="1102.8" cy="76.4" r="4.8"/><circle cx="1096.8" cy="82.4" r="4.8"/><circle cx="1102.3" cy="89.0" r="4.8"/><circle cx="1118.8" cy="72.0" r="4.8"/><circle cx="1124.3" cy="75.0" r="4.8"/><circle cx="1117.3" cy="79.0" r="4.8"/><circle cx="1129.3" cy="86.9" r="4.8"/><circle cx="1114.8" cy="94.5" r="4.8"/><circle cx="1130.3" cy="54.5" r="4.8"/><circle cx="1148.8" cy="61.0" r="4.8"/><circle cx="1181.3" cy="46.0" r="4.8"/><circle cx="1156.3" cy="81.0" r="4.8"/><circle cx="1169.3" cy="90.0" r="4.8"/><circle cx="1174.8" cy="98.4" r="4.8"/><circle cx="1079.3" cy="85.5" r="4.8"/><circle cx="1065.3" cy="97.0" r="4.8"/><circle cx="1074.3" cy="97.9" r="4.8"/><circle cx="1075.3" cy="100.5" r="4.8"/><circle cx="1083.3" cy="93.9" r="4.8"/><circle cx="1089.3" cy="96.4" r="4.8"/><circle cx="1084.3" cy="103.0" r="4.8"/><circle cx="1086.3" cy="104.0" r="4.8"/><circle cx="1104.8" cy="104.0" r="4.8"/><circle cx="1074.3" cy="112.4" r="4.8"/><circle cx="1089.8" cy="119.4" r="4.8"/><circle cx="1059.3" cy="122.9" r="4.8"/><circle cx="1059.3" cy="129.4" r="4.8"/><circle cx="1059.8" cy="132.9" r="4.8"/><circle cx="1074.8" cy="130.4" r="4.8"/><circle cx="1076.8" cy="132.9" r="4.8"/><circle cx="1064.3" cy="140.4" r="4.8"/><circle cx="1087.3" cy="139.9" r="4.8"/><circle cx="1106.8" cy="143.4" r="4.8"/><circle cx="1116.3" cy="148.6" r="4.8"/><circle cx="1122.3" cy="138.9" r="4.8"/><circle cx="1126.8" cy="138.4" r="4.8"/><circle cx="1132.8" cy="132.9" r="4.8"/><circle cx="1146.3" cy="136.9" r="4.8"/><circle cx="1151.3" cy="138.4" r="4.8"/><circle cx="1131.8" cy="121.4" r="4.8"/><circle cx="1053.3" cy="142.9" r="4.8"/><circle cx="1056.3" cy="144.4" r="4.8"/><circle cx="1060.3" cy="143.9" r="4.8"/><circle cx="1194.8" cy="48.0" r="4.8"/><circle cx="1187.8" cy="113.9" r="4.8"/><circle cx="909.1" cy="161.9" r="4.8"/><circle cx="906.1" cy="169.4" r="4.8"/><circle cx="900.3" cy="174.9" r="4.8"/><circle cx="896.3" cy="179.4" r="4.8"/><circle cx="913.6" cy="176.9" r="4.8"/><circle cx="890.8" cy="168.9" r="4.8"/><circle cx="906.8" cy="186.9" r="4.8"/><circle cx="894.8" cy="193.3" r="4.8"/><circle cx="907.8" cy="196.8" r="4.8"/><circle cx="867.3" cy="201.8" r="4.8"/><circle cx="865.8" cy="205.3" r="4.8"/><circle cx="890.8" cy="218.3" r="4.8"/><circle cx="892.3" cy="221.3" r="4.8"/><circle cx="896.3" cy="222.3" r="4.8"/><circle cx="911.3" cy="222.3" r="4.8"/><circle cx="914.8" cy="230.8" r="4.8"/><circle cx="913.3" cy="233.8" r="4.8"/><circle cx="915.6" cy="236.8" r="4.8"/><circle cx="877.3" cy="230.3" r="4.8"/><circle cx="873.3" cy="233.3" r="4.8"/><circle cx="864.3" cy="238.3" r="4.8"/><circle cx="869.8" cy="242.3" r="4.8"/><circle cx="870.3" cy="245.3" r="4.8"/><circle cx="889.3" cy="239.3" r="4.8"/><circle cx="858.3" cy="253.8" r="4.8"/><circle cx="870.8" cy="251.3" r="4.8"/><circle cx="875.8" cy="255.3" r="4.8"/><circle cx="896.8" cy="250.3" r="4.8"/><circle cx="889.8" cy="254.8" r="4.8"/><circle cx="907.8" cy="254.3" r="4.8"/><circle cx="916.5" cy="250.5" r="4.8"/><circle cx="944.3" cy="150.4" r="4.8"/><circle cx="961.8" cy="151.4" r="4.8"/><circle cx="974.3" cy="149.9" r="4.8"/><circle cx="983.3" cy="152.4" r="4.8"/><circle cx="997.3" cy="152.9" r="4.8"/><circle cx="1005.8" cy="150.9" r="4.8"/><circle cx="1034.3" cy="150.9" r="4.8"/><circle cx="1035.3" cy="154.9" r="4.8"/><circle cx="1044.3" cy="148.4" r="4.8"/><circle cx="1053.1" cy="154.5" r="4.8"/><circle cx="922.3" cy="156.4" r="4.8"/><circle cx="921.3" cy="159.9" r="4.8"/><circle cx="930.3" cy="170.9" r="4.8"/><circle cx="932.8" cy="171.9" r="4.8"/><circle cx="934.8" cy="173.4" r="4.8"/><circle cx="953.3" cy="172.4" r="4.8"/><circle cx="958.3" cy="172.9" r="4.8"/><circle cx="966.3" cy="173.9" r="4.8"/><circle cx="967.8" cy="165.4" r="4.8"/><circle cx="979.8" cy="168.9" r="4.8"/><circle cx="979.8" cy="171.9" r="4.8"/><circle cx="971.8" cy="179.9" r="4.8"/><circle cx="971.3" cy="183.9" r="4.8"/><circle cx="985.3" cy="182.4" r="4.8"/><circle cx="990.8" cy="182.9" r="4.8"/><circle cx="986.8" cy="187.9" r="4.8"/><circle cx="984.3" cy="186.4" r="4.8"/><circle cx="994.8" cy="190.4" r="4.8"/><circle cx="979.3" cy="186.9" r="4.8"/><circle cx="931.8" cy="188.8" r="4.8"/><circle cx="938.3" cy="192.3" r="4.8"/><circle cx="939.3" cy="191.3" r="4.8"/><circle cx="946.8" cy="189.4" r="4.8"/><circle cx="931.3" cy="198.9" r="4.8"/><circle cx="970.8" cy="193.3" r="4.8"/><circle cx="972.3" cy="196.8" r="4.8"/><circle cx="980.8" cy="199.9" r="4.8"/><circle cx="1007.3" cy="189.4" r="4.8"/><circle cx="1006.8" cy="195.8" r="4.8"/><circle cx="1014.3" cy="156.4" r="4.8"/><circle cx="1019.3" cy="157.9" r="4.8"/><circle cx="1017.3" cy="161.9" r="4.8"/><circle cx="1021.3" cy="164.4" r="4.8"/><circle cx="1026.3" cy="161.9" r="4.8"/><circle cx="1025.3" cy="169.4" r="4.8"/><circle cx="1019.3" cy="169.4" r="4.8"/><circle cx="1011.8" cy="167.9" r="4.8"/><circle cx="1030.3" cy="157.9" r="4.8"/><circle cx="1043.3" cy="166.9" r="4.8"/><circle cx="1040.3" cy="176.9" r="4.8"/><circle cx="1036.3" cy="175.9" r="4.8"/><circle cx="1031.3" cy="182.9" r="4.8"/><circle cx="1043.3" cy="185.9" r="4.8"/><circle cx="1038.3" cy="186.9" r="4.8"/><circle cx="938.3" cy="205.9" r="4.8"/><circle cx="944.3" cy="208.4" r="4.8"/><circle cx="942.8" cy="210.8" r="4.8"/><circle cx="956.8" cy="208.4" r="4.8"/><circle cx="957.3" cy="211.9" r="4.8"/><circle cx="958.8" cy="218.3" r="4.8"/><circle cx="921.3" cy="216.8" r="4.8"/><circle cx="939.3" cy="222.8" r="4.8"/><circle cx="949.3" cy="227.3" r="4.8"/><circle cx="989.8" cy="205.9" r="4.8"/><circle cx="985.3" cy="206.8" r="4.8"/><circle cx="1014.3" cy="207.8" r="4.8"/><circle cx="1025.8" cy="216.3" r="4.8"/><circle cx="1027.8" cy="220.8" r="4.8"/><circle cx="1050.3" cy="213.1" r="4.8"/><circle cx="1017.3" cy="230.3" r="4.8"/><circle cx="1022.3" cy="233.8" r="4.8"/><circle cx="984.3" cy="229.8" r="4.8"/><circle cx="990.3" cy="229.8" r="4.8"/><circle cx="992.8" cy="232.3" r="4.8"/><circle cx="1000.8" cy="229.3" r="4.8"/><circle cx="958.3" cy="232.8" r="4.8"/><circle cx="966.8" cy="234.8" r="4.8"/><circle cx="961.3" cy="233.8" r="4.8"/><circle cx="948.3" cy="237.8" r="4.8"/><circle cx="941.3" cy="246.8" r="4.8"/><circle cx="949.8" cy="246.8" r="4.8"/><circle cx="962.3" cy="244.8" r="4.8"/><circle cx="964.3" cy="247.8" r="4.8"/><circle cx="962.3" cy="249.8" r="4.8"/><circle cx="976.8" cy="243.8" r="4.8"/><circle cx="980.3" cy="247.8" r="4.8"/><circle cx="932.3" cy="254.8" r="4.8"/><circle cx="1041.3" cy="242.8" r="4.8"/><circle cx="1044.3" cy="251.8" r="4.8"/><circle cx="987.3" cy="254.8" r="4.8"/><circle cx="995.3" cy="255.3" r="4.8"/><circle cx="1011.8" cy="256.8" r="4.8"/><circle cx="1015.8" cy="257.3" r="4.8"/><circle cx="1061.8" cy="152.9" r="4.8"/><circle cx="1064.8" cy="158.4" r="4.8"/><circle cx="1075.3" cy="152.4" r="4.8"/><circle cx="1120.8" cy="158.4" r="4.8"/><circle cx="1122.8" cy="159.9" r="4.8"/><circle cx="1059.3" cy="167.9" r="4.8"/><circle cx="1058.3" cy="178.4" r="4.8"/><circle cx="1068.3" cy="181.8" r="4.8"/><circle cx="1076.8" cy="179.9" r="4.8"/><circle cx="1090.8" cy="176.4" r="4.8"/><circle cx="1114.8" cy="170.4" r="4.8"/><circle cx="1116.3" cy="183.9" r="4.8"/><circle cx="1113.3" cy="187.4" r="4.8"/><circle cx="1122.8" cy="185.3" r="4.8"/><circle cx="1097.3" cy="189.4" r="4.8"/><circle cx="1133.8" cy="192.9" r="4.8"/><circle cx="1150.8" cy="198.3" r="4.8"/><circle cx="1151.8" cy="200.8" r="4.8"/><circle cx="1078.3" cy="196.4" r="4.8"/><circle cx="1117.8" cy="199.9" r="4.8"/><circle cx="1097.3" cy="205.3" r="4.8"/><circle cx="1113.3" cy="217.8" r="4.8"/><circle cx="1089.3" cy="222.8" r="4.8"/><circle cx="1063.8" cy="225.8" r="4.8"/><circle cx="1056.3" cy="230.3" r="4.8"/><circle cx="1174.8" cy="229.8" r="4.8"/><circle cx="1112.8" cy="239.8" r="4.8"/><circle cx="1086.8" cy="249.8" r="4.8"/><circle cx="1085.8" cy="252.8" r="4.8"/><circle cx="1053.8" cy="257.3" r="4.8"/><circle cx="1144.8" cy="258.8" r="4.8"/><circle cx="1160.8" cy="256.3" r="4.8"/><circle cx="1190.3" cy="254.3" r="4.8"/><circle cx="874.8" cy="262.3" r="4.8"/><circle cx="875.3" cy="267.8" r="4.8"/><circle cx="876.3" cy="272.8" r="4.8"/><circle cx="873.3" cy="276.8" r="4.8"/><circle cx="880.8" cy="280.8" r="4.8"/><circle cx="887.3" cy="267.3" r="4.8"/><circle cx="887.8" cy="267.8" r="4.8"/><circle cx="896.3" cy="269.8" r="4.8"/><circle cx="899.3" cy="268.3" r="4.8"/><circle cx="907.8" cy="262.8" r="4.8"/><circle cx="906.8" cy="268.8" r="4.8"/><circle cx="910.3" cy="271.8" r="4.8"/><circle cx="915.4" cy="270.8" r="4.8"/><circle cx="826.3" cy="287.8" r="4.8"/><circle cx="840.8" cy="287.8" r="4.8"/><circle cx="834.8" cy="298.3" r="4.8"/><circle cx="854.8" cy="298.3" r="4.8"/><circle cx="827.8" cy="307.8" r="4.8"/><circle cx="868.3" cy="287.8" r="4.8"/><circle cx="874.3" cy="295.8" r="4.8"/><circle cx="894.8" cy="290.7" r="4.8"/><circle cx="901.3" cy="285.8" r="4.8"/><circle cx="904.3" cy="289.8" r="4.8"/><circle cx="911.3" cy="282.8" r="4.8"/><circle cx="882.3" cy="304.7" r="4.8"/><circle cx="880.3" cy="311.3" r="4.8"/><circle cx="884.3" cy="309.7" r="4.8"/><circle cx="882.8" cy="315.2" r="4.8"/><circle cx="888.3" cy="313.8" r="4.8"/><circle cx="892.3" cy="310.7" r="4.8"/><circle cx="896.3" cy="306.3" r="4.8"/><circle cx="855.8" cy="314.2" r="4.8"/><circle cx="852.3" cy="318.3" r="4.8"/><circle cx="868.3" cy="315.2" r="4.8"/><circle cx="872.3" cy="317.7" r="4.8"/><circle cx="873.8" cy="322.2" r="4.8"/><circle cx="869.8" cy="326.2" r="4.8"/><circle cx="877.8" cy="330.2" r="4.8"/><circle cx="881.8" cy="329.2" r="4.8"/><circle cx="880.8" cy="335.2" r="4.8"/><circle cx="876.3" cy="337.7" r="4.8"/><circle cx="884.3" cy="338.7" r="4.8"/><circle cx="879.3" cy="342.7" r="4.8"/><circle cx="885.8" cy="344.7" r="4.8"/><circle cx="892.3" cy="325.7" r="4.8"/><circle cx="899.8" cy="328.7" r="4.8"/><circle cx="901.3" cy="332.7" r="4.8"/><circle cx="905.8" cy="332.7" r="4.8"/><circle cx="909.3" cy="321.8" r="4.8"/><circle cx="914.3" cy="315.2" r="4.8"/><circle cx="842.8" cy="335.7" r="4.8"/><circle cx="824.3" cy="341.7" r="4.8"/><circle cx="808.8" cy="344.2" r="4.8"/><circle cx="816.8" cy="345.7" r="4.8"/><circle cx="834.3" cy="349.7" r="4.8"/><circle cx="834.3" cy="353.2" r="4.8"/><circle cx="833.8" cy="357.7" r="4.8"/><circle cx="832.8" cy="359.7" r="4.8"/><circle cx="852.3" cy="341.2" r="4.8"/><circle cx="856.3" cy="342.7" r="4.8"/><circle cx="854.8" cy="346.7" r="4.8"/><circle cx="861.8" cy="336.7" r="4.8"/><circle cx="865.8" cy="335.7" r="4.8"/><circle cx="858.3" cy="351.7" r="4.8"/><circle cx="863.3" cy="352.7" r="4.8"/><circle cx="866.3" cy="354.7" r="4.8"/><circle cx="870.3" cy="351.7" r="4.8"/><circle cx="874.3" cy="346.7" r="4.8"/><circle cx="880.3" cy="345.7" r="4.8"/><circle cx="892.8" cy="346.2" r="4.8"/><circle cx="900.3" cy="350.7" r="4.8"/><circle cx="903.3" cy="351.7" r="4.8"/><circle cx="915.3" cy="344.7" r="4.8"/><circle cx="915.8" cy="355.7" r="4.8"/><circle cx="884.3" cy="355.2" r="4.8"/><circle cx="906.0" cy="363.2" r="4.8"/><circle cx="903.0" cy="362.5" r="4.8"/><circle cx="853.0" cy="365.2" r="4.8"/><circle cx="826.0" cy="366.4" r="4.8"/><circle cx="864.3" cy="361.7" r="4.8"/><circle cx="921.3" cy="263.3" r="4.8"/><circle cx="971.8" cy="266.3" r="4.8"/><circle cx="980.3" cy="264.8" r="4.8"/><circle cx="987.3" cy="264.8" r="4.8"/><circle cx="989.8" cy="269.8" r="4.8"/><circle cx="964.8" cy="273.3" r="4.8"/><circle cx="997.8" cy="277.8" r="4.8"/><circle cx="1025.8" cy="263.8" r="4.8"/><circle cx="965.3" cy="291.3" r="4.8"/><circle cx="967.3" cy="291.8" r="4.8"/><circle cx="977.8" cy="291.8" r="4.8"/><circle cx="984.3" cy="288.8" r="4.8"/><circle cx="989.3" cy="287.8" r="4.8"/><circle cx="965.3" cy="301.2" r="4.8"/><circle cx="979.3" cy="301.8" r="4.8"/><circle cx="994.3" cy="302.2" r="4.8"/><circle cx="1006.3" cy="299.8" r="4.8"/><circle cx="1048.8" cy="297.3" r="4.8"/><circle cx="1048.8" cy="317.3" r="4.8"/><circle cx="1050.3" cy="318.3" r="4.8"/><circle cx="928.3" cy="306.8" r="4.8"/><circle cx="922.8" cy="312.7" r="4.8"/><circle cx="943.8" cy="328.2" r="4.8"/><circle cx="959.8" cy="328.2" r="4.8"/><circle cx="967.8" cy="327.7" r="4.8"/><circle cx="995.8" cy="323.2" r="4.8"/><circle cx="1004.8" cy="325.7" r="4.8"/><circle cx="981.3" cy="336.7" r="4.8"/><circle cx="992.8" cy="343.7" r="4.8"/><circle cx="942.3" cy="345.7" r="4.8"/><circle cx="948.3" cy="348.2" r="4.8"/><circle cx="925.8" cy="348.7" r="4.8"/><circle cx="921.3" cy="350.2" r="4.8"/><circle cx="923.8" cy="353.7" r="4.8"/><circle cx="934.8" cy="357.2" r="4.8"/><circle cx="965.3" cy="360.7" r="4.8"/><circle cx="942.3" cy="367.4" r="4.8"/><circle cx="1005.8" cy="368.9" r="4.8"/><circle cx="1108.3" cy="274.8" r="4.8"/><circle cx="1110.3" cy="294.5" r="4.8"/><circle cx="1139.3" cy="287.8" r="4.8"/><circle cx="1141.3" cy="289.8" r="4.8"/><circle cx="1147.3" cy="296.3" r="4.8"/><circle cx="1087.8" cy="305.7" r="4.8"/><circle cx="1089.3" cy="306.8" r="4.8"/><circle cx="1095.3" cy="308.8" r="4.8"/><circle cx="1109.8" cy="319.2" r="4.8"/><circle cx="1111.3" cy="327.7" r="4.8"/><circle cx="1065.3" cy="336.2" r="4.8"/><circle cx="1144.3" cy="330.2" r="4.8"/><circle cx="1163.3" cy="335.7" r="4.8"/><circle cx="1183.3" cy="329.2" r="4.8"/><circle cx="1117.3" cy="352.7" r="4.8"/><circle cx="1152.3" cy="362.7" r="4.8"/><circle cx="829.3" cy="371.7" r="4.8"/><circle cx="821.3" cy="374.2" r="4.8"/><circle cx="823.8" cy="380.7" r="4.8"/><circle cx="835.3" cy="378.2" r="4.8"/><circle cx="835.8" cy="382.7" r="4.8"/><circle cx="841.8" cy="386.2" r="4.8"/><circle cx="812.3" cy="383.2" r="4.8"/><circle cx="803.8" cy="392.7" r="4.8"/><circle cx="821.3" cy="393.2" r="4.8"/><circle cx="858.8" cy="369.7" r="4.8"/><circle cx="860.3" cy="373.7" r="4.8"/><circle cx="851.8" cy="378.2" r="4.8"/><circle cx="856.3" cy="376.7" r="4.8"/><circle cx="860.3" cy="377.7" r="4.8"/><circle cx="855.3" cy="383.2" r="4.8"/><circle cx="859.3" cy="384.7" r="4.8"/><circle cx="863.3" cy="381.7" r="4.8"/><circle cx="856.8" cy="388.7" r="4.8"/><circle cx="864.3" cy="391.7" r="4.8"/><circle cx="869.3" cy="385.7" r="4.8"/><circle cx="870.8" cy="385.2" r="4.8"/><circle cx="875.3" cy="389.7" r="4.8"/><circle cx="876.3" cy="392.7" r="4.8"/><circle cx="881.3" cy="393.7" r="4.8"/><circle cx="882.3" cy="383.2" r="4.8"/><circle cx="885.8" cy="383.7" r="4.8"/><circle cx="888.3" cy="383.2" r="4.8"/><circle cx="889.8" cy="396.2" r="4.8"/><circle cx="896.3" cy="371.2" r="4.8"/><circle cx="895.3" cy="374.7" r="4.8"/><circle cx="899.8" cy="375.7" r="4.8"/><circle cx="897.8" cy="381.2" r="4.8"/><circle cx="911.3" cy="372.7" r="4.8"/><circle cx="914.3" cy="380.7" r="4.8"/><circle cx="906.3" cy="398.7" r="4.8"/><circle cx="916.5" cy="398.4" r="4.8"/><circle cx="910.3" cy="408.7" r="4.8"/><circle cx="915.6" cy="409.9" r="4.8"/><circle cx="875.3" cy="399.6" r="4.8"/><circle cx="876.3" cy="403.7" r="4.8"/><circle cx="884.3" cy="406.2" r="4.8"/><circle cx="888.8" cy="409.7" r="4.8"/><circle cx="892.3" cy="414.2" r="4.8"/><circle cx="896.8" cy="417.7" r="4.8"/><circle cx="904.3" cy="419.6" r="4.8"/><circle cx="907.8" cy="425.6" r="4.8"/><circle cx="910.3" cy="431.6" r="4.8"/><circle cx="913.8" cy="434.4" r="4.8"/><circle cx="898.3" cy="428.6" r="4.8"/><circle cx="904.3" cy="431.6" r="4.8"/><circle cx="842.8" cy="397.2" r="4.8"/><circle cx="845.3" cy="403.7" r="4.8"/><circle cx="832.8" cy="399.2" r="4.8"/><circle cx="813.3" cy="403.7" r="4.8"/><circle cx="814.8" cy="407.6" r="4.8"/><circle cx="818.3" cy="411.1" r="4.8"/><circle cx="818.8" cy="415.7" r="4.8"/><circle cx="800.8" cy="409.7" r="4.8"/><circle cx="804.3" cy="411.1" r="4.8"/><circle cx="856.3" cy="403.7" r="4.8"/><circle cx="860.3" cy="405.7" r="4.8"/><circle cx="853.3" cy="407.6" r="4.8"/><circle cx="859.3" cy="409.1" r="4.8"/><circle cx="856.3" cy="413.6" r="4.8"/><circle cx="861.8" cy="416.7" r="4.8"/><circle cx="865.3" cy="413.6" r="4.8"/><circle cx="868.3" cy="410.7" r="4.8"/><circle cx="863.3" cy="421.6" r="4.8"/><circle cx="865.3" cy="425.6" r="4.8"/><circle cx="860.3" cy="419.2" r="4.8"/><circle cx="870.3" cy="414.6" r="4.8"/><circle cx="874.3" cy="418.6" r="4.8"/><circle cx="876.3" cy="422.7" r="4.8"/><circle cx="878.8" cy="413.6" r="4.8"/><circle cx="880.3" cy="426.6" r="4.8"/><circle cx="872.8" cy="411.7" r="4.8"/><circle cx="787.3" cy="427.6" r="4.8"/><circle cx="800.3" cy="426.6" r="4.8"/><circle cx="816.3" cy="426.2" r="4.8"/><circle cx="818.8" cy="430.7" r="4.8"/><circle cx="824.3" cy="437.6" r="4.8"/><circle cx="829.3" cy="430.7" r="4.8"/><circle cx="832.3" cy="431.6" r="4.8"/><circle cx="832.3" cy="435.6" r="4.8"/><circle cx="830.3" cy="440.6" r="4.8"/><circle cx="833.3" cy="444.6" r="4.8"/><circle cx="831.3" cy="447.6" r="4.8"/><circle cx="836.3" cy="448.6" r="4.8"/><circle cx="805.8" cy="439.6" r="4.8"/><circle cx="806.1" cy="439.8" r="4.8"/><circle cx="794.3" cy="450.1" r="4.8"/><circle cx="806.8" cy="452.1" r="4.8"/><circle cx="813.8" cy="453.1" r="4.8"/><circle cx="802.8" cy="462.6" r="4.8"/><circle cx="805.8" cy="464.6" r="4.8"/><circle cx="843.3" cy="427.6" r="4.8"/><circle cx="851.8" cy="431.1" r="4.8"/><circle cx="846.3" cy="442.6" r="4.8"/><circle cx="840.3" cy="440.6" r="4.8"/><circle cx="854.3" cy="444.1" r="4.8"/><circle cx="860.3" cy="437.6" r="4.8"/><circle cx="861.3" cy="448.6" r="4.8"/><circle cx="861.3" cy="451.6" r="4.8"/><circle cx="868.3" cy="435.6" r="4.8"/><circle cx="883.3" cy="435.6" r="4.8"/><circle cx="878.8" cy="448.6" r="4.8"/><circle cx="884.8" cy="445.6" r="4.8"/><circle cx="854.3" cy="459.1" r="4.8"/><circle cx="833.8" cy="464.6" r="4.8"/><circle cx="949.8" cy="374.2" r="4.8"/><circle cx="961.3" cy="379.7" r="4.8"/><circle cx="966.8" cy="374.2" r="4.8"/><circle cx="918.3" cy="371.7" r="4.8"/><circle cx="925.3" cy="377.7" r="4.8"/><circle cx="919.8" cy="380.2" r="4.8"/><circle cx="920.8" cy="381.7" r="4.8"/><circle cx="972.8" cy="394.2" r="4.8"/><circle cx="982.3" cy="409.1" r="4.8"/><circle cx="1011.3" cy="425.6" r="4.8"/><circle cx="1044.3" cy="411.1" r="4.8"/><circle cx="915.8" cy="421.2" r="4.8"/><circle cx="1110.1" cy="428.4" r="4.8"/><circle cx="1110.3" cy="450.1" r="4.8"/><circle cx="879.8" cy="333.7" r="4.8"/><circle cx="877.8" cy="339.2" r="4.8"/><circle cx="882.3" cy="340.7" r="4.8"/><circle cx="1142.9" cy="139.5" r="4.8"/><circle cx="1151.6" cy="101.8" r="4.8"/><circle cx="914.5" cy="230.7" r="4.8"/><circle cx="916.1" cy="232.6" r="4.8"/><circle cx="913.5" cy="233.2" r="4.8"/><circle cx="1015.0" cy="270.2" r="4.8"/><circle cx="1017.6" cy="280.9" r="4.8"/><circle cx="923.2" cy="235.2" r="4.8"/><circle cx="972.3" cy="225.8" r="4.8"/><circle cx="998.1" cy="210.7" r="4.8"/><circle cx="958.6" cy="259.8" r="4.8"/><circle cx="934.1" cy="266.6" r="4.8"/><circle cx="927.3" cy="293.8" r="4.8"/><circle cx="938.2" cy="292.4" r="4.8"/><circle cx="917.7" cy="326.4" r="4.8"/></g><g fill-opacity="0.8" stroke="#000" stroke-opacity="0.92" stroke-width="1.8"><circle cx="834.3" cy="414.5" r="11.45" fill="#370056"/><circle cx="876.8" cy="368.7" r="11.45" fill="#364183"/><circle cx="922.8" cy="327.5" r="11.45" fill="#318a8a"/><circle cx="921.0" cy="294.4" r="11.45" fill="#339a88"/><circle cx="917.2" cy="295.7" r="11.45" fill="#364183"/><circle cx="934.2" cy="293.7" r="11.45" fill="#334c86"/><circle cx="938.5" cy="270.5" r="11.45" fill="#306c88"/><circle cx="953.1" cy="262.8" r="11.45" fill="#41be83"/><circle cx="928.5" cy="231.8" r="11.45" fill="#364183"/><circle cx="976.9" cy="218.8" r="11.45" fill="#354984"/><circle cx="1003.9" cy="214.8" r="11.45" fill="#2e7488"/><circle cx="1031.7" cy="200.3" r="11.45" fill="#316288"/><circle cx="1015.8" cy="276.2" r="11.45" fill="#318a8a"/><circle cx="1020.5" cy="139.9" r="11.45" fill="#daf018"/><circle cx="1105.8" cy="126.4" r="11.45" fill="#5fdb6e"/><circle cx="1153.3" cy="106.9" r="11.45" fill="#a1eb3a"/><circle cx="1135.8" cy="106.9" r="11.45" fill="#d2ef15"/><circle cx="1138.3" cy="145.7" r="11.45" fill="#a1eb3a"/></g></g>
<line x1="937.87" y1="469.60" x2="937.87" y2="475.60" stroke="#262626" stroke-width="1.6" fill="none"/>
<text x="919.39" y="500.50" font-size="28.20" textLength="36.49" lengthAdjust="spacingAndGlyphs">−2</text>
<line x1="1103.02" y1="469.60" x2="1103.02" y2="475.60" stroke="#262626" stroke-width="1.6" fill="none"/>
<text x="1094.76" y="500.50" font-size="28.20" textLength="16.52" lengthAdjust="spacingAndGlyphs">0</text>
<line x1="774.40" y1="469.60" x2="780.40" y2="469.60" stroke="#262626" stroke-width="1.6" fill="none"/>
<text x="726.85" y="479.50" font-size="28.20" textLength="40.90" lengthAdjust="spacingAndGlyphs">0.0</text>
<line x1="774.40" y1="296.88" x2="780.40" y2="296.88" stroke="#262626" stroke-width="1.6" fill="none"/>
<text x="726.86" y="306.78" font-size="28.20" textLength="40.60" lengthAdjust="spacingAndGlyphs">0.4</text>
<line x1="774.40" y1="124.16" x2="780.40" y2="124.16" stroke="#262626" stroke-width="1.6" fill="none"/>
<text x="726.85" y="134.06" font-size="28.20" textLength="41.04" lengthAdjust="spacingAndGlyphs">0.8</text>
<text x="868.43" y="532.40" font-size="27.40" textLength="237.48" lengthAdjust="spacingAndGlyphs">ln( chla [mg/m3] )</text>
<g transform="translate(714.10 253.70) rotate(-90)"><text x="-25.65" y="0.00" font-size="27.00" textLength="15.11" lengthAdjust="spacingAndGlyphs">Γ</text><text x="-11.27" y="5.00" font-size="20.60" font-style="italic" textLength="37.67" lengthAdjust="spacingAndGlyphs">chla</text></g>
<text x="728.85" y="39.30" font-size="50.00" textLength="27.21" lengthAdjust="spacingAndGlyphs">b</text>
<text x="759.74" y="39.30" font-size="50.00" textLength="14.95" lengthAdjust="spacingAndGlyphs">)</text>
<clipPath id="clipc"><rect x="88.60" y="608.90" width="388.70" height="420.30"/></clipPath>
<g clip-path="url(#clipc)"><g fill="#000" fill-opacity="0.2" stroke="#000" stroke-opacity="0.28" stroke-width="1.5"><circle cx="213.6" cy="690.8" r="4.8"/><circle cx="210.5" cy="710.0" r="4.8"/><circle cx="244.9" cy="619.0" r="4.8"/><circle cx="231.8" cy="629.0" r="4.8"/><circle cx="272.0" cy="617.9" r="4.8"/><circle cx="285.3" cy="613.0" r="4.8"/><circle cx="300.8" cy="617.1" r="4.8"/><circle cx="307.0" cy="606.7" r="4.8"/><circle cx="310.7" cy="607.1" r="4.8"/><circle cx="314.5" cy="619.3" r="4.8"/><circle cx="319.2" cy="617.9" r="4.8"/><circle cx="326.7" cy="618.3" r="4.8"/><circle cx="328.1" cy="621.7" r="4.8"/><circle cx="298.8" cy="627.1" r="4.8"/><circle cx="335.4" cy="631.5" r="4.8"/><circle cx="270.1" cy="637.3" r="4.8"/><circle cx="257.9" cy="641.4" r="4.8"/><circle cx="266.1" cy="642.1" r="4.8"/><circle cx="285.3" cy="644.6" r="4.8"/><circle cx="297.1" cy="635.8" r="4.8"/><circle cx="300.4" cy="640.2" r="4.8"/><circle cx="303.7" cy="640.2" r="4.8"/><circle cx="304.1" cy="648.5" r="4.8"/><circle cx="244.9" cy="648.0" r="4.8"/><circle cx="275.5" cy="655.8" r="4.8"/><circle cx="283.0" cy="653.8" r="4.8"/><circle cx="283.0" cy="660.6" r="4.8"/><circle cx="311.7" cy="657.7" r="4.8"/><circle cx="315.9" cy="656.7" r="4.8"/><circle cx="338.0" cy="648.8" r="4.8"/><circle cx="338.9" cy="656.7" r="4.8"/><circle cx="227.4" cy="664.5" r="4.8"/><circle cx="238.8" cy="665.5" r="4.8"/><circle cx="238.6" cy="669.4" r="4.8"/><circle cx="253.4" cy="666.8" r="4.8"/><circle cx="278.1" cy="668.9" r="4.8"/><circle cx="227.4" cy="677.2" r="4.8"/><circle cx="238.4" cy="678.1" r="4.8"/><circle cx="238.4" cy="678.6" r="4.8"/><circle cx="231.8" cy="684.9" r="4.8"/><circle cx="261.9" cy="675.2" r="4.8"/><circle cx="263.7" cy="679.1" r="4.8"/><circle cx="268.0" cy="683.0" r="4.8"/><circle cx="272.2" cy="683.5" r="4.8"/><circle cx="276.4" cy="691.3" r="4.8"/><circle cx="285.8" cy="692.7" r="4.8"/><circle cx="288.2" cy="695.6" r="4.8"/><circle cx="291.0" cy="683.0" r="4.8"/><circle cx="302.7" cy="675.0" r="4.8"/><circle cx="326.7" cy="666.3" r="4.8"/><circle cx="332.3" cy="667.9" r="4.8"/><circle cx="337.0" cy="671.3" r="4.8"/><circle cx="324.8" cy="677.2" r="4.8"/><circle cx="331.4" cy="678.1" r="4.8"/><circle cx="339.8" cy="683.0" r="4.8"/><circle cx="342.2" cy="691.7" r="4.8"/><circle cx="323.9" cy="688.8" r="4.8"/><circle cx="316.8" cy="694.2" r="4.8"/><circle cx="326.7" cy="695.6" r="4.8"/><circle cx="324.3" cy="699.1" r="4.8"/><circle cx="327.2" cy="700.5" r="4.8"/><circle cx="298.8" cy="700.0" r="4.8"/><circle cx="330.0" cy="705.4" r="4.8"/><circle cx="336.1" cy="705.4" r="4.8"/><circle cx="247.3" cy="701.5" r="4.8"/><circle cx="252.0" cy="699.5" r="4.8"/><circle cx="234.1" cy="706.3" r="4.8"/><circle cx="220.0" cy="708.3" r="4.8"/><circle cx="225.7" cy="714.1" r="4.8"/><circle cx="253.9" cy="711.2" r="4.8"/><circle cx="260.9" cy="711.2" r="4.8"/><circle cx="266.6" cy="712.2" r="4.8"/><circle cx="284.7" cy="709.7" r="4.8"/><circle cx="298.5" cy="709.3" r="4.8"/><circle cx="342.2" cy="656.0" r="4.8"/><circle cx="345.0" cy="613.5" r="4.8"/><circle cx="348.8" cy="607.6" r="4.8"/><circle cx="400.4" cy="606.7" r="4.8"/><circle cx="406.1" cy="606.7" r="4.8"/><circle cx="427.2" cy="607.1" r="4.8"/><circle cx="390.1" cy="618.8" r="4.8"/><circle cx="390.1" cy="621.3" r="4.8"/><circle cx="370.8" cy="624.7" r="4.8"/><circle cx="377.9" cy="627.1" r="4.8"/><circle cx="369.0" cy="632.9" r="4.8"/><circle cx="370.4" cy="636.3" r="4.8"/><circle cx="348.8" cy="634.4" r="4.8"/><circle cx="350.2" cy="644.6" r="4.8"/><circle cx="379.3" cy="643.1" r="4.8"/><circle cx="392.5" cy="641.7" r="4.8"/><circle cx="391.5" cy="646.5" r="4.8"/><circle cx="385.9" cy="652.4" r="4.8"/><circle cx="391.0" cy="658.7" r="4.8"/><circle cx="406.6" cy="642.1" r="4.8"/><circle cx="411.7" cy="645.1" r="4.8"/><circle cx="405.1" cy="649.0" r="4.8"/><circle cx="416.4" cy="656.7" r="4.8"/><circle cx="402.8" cy="664.0" r="4.8"/><circle cx="417.4" cy="625.1" r="4.8"/><circle cx="434.7" cy="631.5" r="4.8"/><circle cx="465.3" cy="616.9" r="4.8"/><circle cx="441.8" cy="650.9" r="4.8"/><circle cx="454.0" cy="659.7" r="4.8"/><circle cx="459.2" cy="667.9" r="4.8"/><circle cx="369.4" cy="655.3" r="4.8"/><circle cx="356.3" cy="666.5" r="4.8"/><circle cx="364.7" cy="667.4" r="4.8"/><circle cx="365.7" cy="669.9" r="4.8"/><circle cx="373.2" cy="663.5" r="4.8"/><circle cx="378.8" cy="666.0" r="4.8"/><circle cx="374.1" cy="672.3" r="4.8"/><circle cx="376.0" cy="673.3" r="4.8"/><circle cx="393.4" cy="673.3" r="4.8"/><circle cx="364.7" cy="681.5" r="4.8"/><circle cx="379.3" cy="688.3" r="4.8"/><circle cx="350.6" cy="691.7" r="4.8"/><circle cx="350.6" cy="698.1" r="4.8"/><circle cx="351.1" cy="701.5" r="4.8"/><circle cx="365.2" cy="699.1" r="4.8"/><circle cx="367.1" cy="701.5" r="4.8"/><circle cx="355.3" cy="708.8" r="4.8"/><circle cx="377.0" cy="708.3" r="4.8"/><circle cx="395.3" cy="711.7" r="4.8"/><circle cx="404.2" cy="716.8" r="4.8"/><circle cx="409.8" cy="707.3" r="4.8"/><circle cx="414.1" cy="706.8" r="4.8"/><circle cx="419.7" cy="701.5" r="4.8"/><circle cx="432.4" cy="705.4" r="4.8"/><circle cx="437.1" cy="706.8" r="4.8"/><circle cx="418.8" cy="690.3" r="4.8"/><circle cx="345.0" cy="711.2" r="4.8"/><circle cx="347.8" cy="712.7" r="4.8"/><circle cx="351.6" cy="712.2" r="4.8"/><circle cx="478.0" cy="618.8" r="4.8"/><circle cx="471.4" cy="683.0" r="4.8"/><circle cx="209.5" cy="729.7" r="4.8"/><circle cx="206.7" cy="737.0" r="4.8"/><circle cx="201.3" cy="742.3" r="4.8"/><circle cx="197.5" cy="746.7" r="4.8"/><circle cx="213.7" cy="744.3" r="4.8"/><circle cx="192.3" cy="736.5" r="4.8"/><circle cx="207.4" cy="754.0" r="4.8"/><circle cx="196.1" cy="760.3" r="4.8"/><circle cx="208.3" cy="763.7" r="4.8"/><circle cx="170.3" cy="768.6" r="4.8"/><circle cx="168.8" cy="772.0" r="4.8"/><circle cx="192.3" cy="784.6" r="4.8"/><circle cx="193.7" cy="787.5" r="4.8"/><circle cx="197.5" cy="788.5" r="4.8"/><circle cx="211.6" cy="788.5" r="4.8"/><circle cx="214.9" cy="796.8" r="4.8"/><circle cx="213.5" cy="799.7" r="4.8"/><circle cx="215.6" cy="802.6" r="4.8"/><circle cx="179.6" cy="796.3" r="4.8"/><circle cx="175.9" cy="799.2" r="4.8"/><circle cx="167.4" cy="804.1" r="4.8"/><circle cx="172.6" cy="808.0" r="4.8"/><circle cx="173.1" cy="810.9" r="4.8"/><circle cx="190.9" cy="805.1" r="4.8"/><circle cx="161.8" cy="819.1" r="4.8"/><circle cx="173.5" cy="816.7" r="4.8"/><circle cx="178.2" cy="820.6" r="4.8"/><circle cx="198.0" cy="815.7" r="4.8"/><circle cx="191.4" cy="820.1" r="4.8"/><circle cx="208.3" cy="819.6" r="4.8"/><circle cx="216.5" cy="816.0" r="4.8"/><circle cx="242.6" cy="718.5" r="4.8"/><circle cx="259.0" cy="719.5" r="4.8"/><circle cx="270.8" cy="718.0" r="4.8"/><circle cx="279.2" cy="720.4" r="4.8"/><circle cx="292.4" cy="720.9" r="4.8"/><circle cx="300.4" cy="719.0" r="4.8"/><circle cx="327.2" cy="719.0" r="4.8"/><circle cx="328.1" cy="722.9" r="4.8"/><circle cx="336.6" cy="716.5" r="4.8"/><circle cx="344.8" cy="722.5" r="4.8"/><circle cx="221.9" cy="724.3" r="4.8"/><circle cx="221.0" cy="727.7" r="4.8"/><circle cx="229.4" cy="738.4" r="4.8"/><circle cx="231.8" cy="739.4" r="4.8"/><circle cx="233.7" cy="740.9" r="4.8"/><circle cx="251.1" cy="739.9" r="4.8"/><circle cx="255.7" cy="740.4" r="4.8"/><circle cx="263.3" cy="741.3" r="4.8"/><circle cx="264.7" cy="733.1" r="4.8"/><circle cx="276.0" cy="736.5" r="4.8"/><circle cx="276.0" cy="739.4" r="4.8"/><circle cx="268.4" cy="747.2" r="4.8"/><circle cx="268.0" cy="751.1" r="4.8"/><circle cx="281.1" cy="749.6" r="4.8"/><circle cx="286.3" cy="750.1" r="4.8"/><circle cx="282.5" cy="755.0" r="4.8"/><circle cx="280.2" cy="753.5" r="4.8"/><circle cx="290.0" cy="757.4" r="4.8"/><circle cx="275.5" cy="754.0" r="4.8"/><circle cx="230.9" cy="755.9" r="4.8"/><circle cx="237.0" cy="759.3" r="4.8"/><circle cx="237.9" cy="758.4" r="4.8"/><circle cx="244.9" cy="756.4" r="4.8"/><circle cx="230.4" cy="765.7" r="4.8"/><circle cx="267.5" cy="760.3" r="4.8"/><circle cx="268.9" cy="763.7" r="4.8"/><circle cx="276.9" cy="766.6" r="4.8"/><circle cx="301.8" cy="756.4" r="4.8"/><circle cx="301.3" cy="762.7" r="4.8"/><circle cx="308.4" cy="724.3" r="4.8"/><circle cx="313.1" cy="725.8" r="4.8"/><circle cx="311.2" cy="729.7" r="4.8"/><circle cx="314.9" cy="732.1" r="4.8"/><circle cx="319.6" cy="729.7" r="4.8"/><circle cx="318.7" cy="737.0" r="4.8"/><circle cx="313.1" cy="737.0" r="4.8"/><circle cx="306.0" cy="735.5" r="4.8"/><circle cx="323.4" cy="725.8" r="4.8"/><circle cx="335.6" cy="734.5" r="4.8"/><circle cx="332.8" cy="744.3" r="4.8"/><circle cx="329.0" cy="743.3" r="4.8"/><circle cx="324.3" cy="750.1" r="4.8"/><circle cx="335.6" cy="753.0" r="4.8"/><circle cx="330.9" cy="754.0" r="4.8"/><circle cx="237.0" cy="772.5" r="4.8"/><circle cx="242.6" cy="774.9" r="4.8"/><circle cx="241.2" cy="777.3" r="4.8"/><circle cx="254.3" cy="774.9" r="4.8"/><circle cx="254.8" cy="778.3" r="4.8"/><circle cx="256.2" cy="784.6" r="4.8"/><circle cx="221.0" cy="783.2" r="4.8"/><circle cx="237.9" cy="789.0" r="4.8"/><circle cx="247.3" cy="793.4" r="4.8"/><circle cx="285.3" cy="772.5" r="4.8"/><circle cx="281.1" cy="773.4" r="4.8"/><circle cx="308.4" cy="774.4" r="4.8"/><circle cx="319.2" cy="782.7" r="4.8"/><circle cx="321.1" cy="787.1" r="4.8"/><circle cx="342.2" cy="779.5" r="4.8"/><circle cx="311.2" cy="796.3" r="4.8"/><circle cx="315.9" cy="799.7" r="4.8"/><circle cx="280.2" cy="795.8" r="4.8"/><circle cx="285.8" cy="795.8" r="4.8"/><circle cx="288.2" cy="798.2" r="4.8"/><circle cx="295.7" cy="795.3" r="4.8"/><circle cx="255.7" cy="798.7" r="4.8"/><circle cx="263.7" cy="800.7" r="4.8"/><circle cx="258.6" cy="799.7" r="4.8"/><circle cx="246.4" cy="803.6" r="4.8"/><circle cx="239.8" cy="812.3" r="4.8"/><circle cx="247.8" cy="812.3" r="4.8"/><circle cx="259.5" cy="810.4" r="4.8"/><circle cx="261.4" cy="813.3" r="4.8"/><circle cx="259.5" cy="815.3" r="4.8"/><circle cx="273.1" cy="809.4" r="4.8"/><circle cx="276.4" cy="813.3" r="4.8"/><circle cx="231.3" cy="820.1" r="4.8"/><circle cx="333.7" cy="808.5" r="4.8"/><circle cx="336.6" cy="817.2" r="4.8"/><circle cx="283.0" cy="820.1" r="4.8"/><circle cx="290.5" cy="820.6" r="4.8"/><circle cx="306.0" cy="822.1" r="4.8"/><circle cx="309.8" cy="822.5" r="4.8"/><circle cx="353.0" cy="720.9" r="4.8"/><circle cx="355.8" cy="726.3" r="4.8"/><circle cx="365.7" cy="720.4" r="4.8"/><circle cx="408.4" cy="726.3" r="4.8"/><circle cx="410.3" cy="727.7" r="4.8"/><circle cx="350.6" cy="735.5" r="4.8"/><circle cx="349.7" cy="745.7" r="4.8"/><circle cx="359.1" cy="749.1" r="4.8"/><circle cx="367.1" cy="747.2" r="4.8"/><circle cx="380.2" cy="743.8" r="4.8"/><circle cx="402.8" cy="737.9" r="4.8"/><circle cx="404.2" cy="751.1" r="4.8"/><circle cx="401.4" cy="754.5" r="4.8"/><circle cx="410.3" cy="752.5" r="4.8"/><circle cx="386.3" cy="756.4" r="4.8"/><circle cx="420.6" cy="759.8" r="4.8"/><circle cx="436.6" cy="765.2" r="4.8"/><circle cx="437.6" cy="767.6" r="4.8"/><circle cx="368.5" cy="763.2" r="4.8"/><circle cx="405.6" cy="766.6" r="4.8"/><circle cx="386.3" cy="772.0" r="4.8"/><circle cx="401.4" cy="784.1" r="4.8"/><circle cx="378.8" cy="789.0" r="4.8"/><circle cx="354.9" cy="791.9" r="4.8"/><circle cx="347.8" cy="796.3" r="4.8"/><circle cx="459.2" cy="795.8" r="4.8"/><circle cx="400.9" cy="805.5" r="4.8"/><circle cx="376.5" cy="815.3" r="4.8"/><circle cx="375.5" cy="818.2" r="4.8"/><circle cx="345.5" cy="822.5" r="4.8"/><circle cx="431.0" cy="824.0" r="4.8"/><circle cx="446.0" cy="821.6" r="4.8"/><circle cx="473.7" cy="819.6" r="4.8"/><circle cx="177.3" cy="827.4" r="4.8"/><circle cx="177.8" cy="832.8" r="4.8"/><circle cx="178.7" cy="837.6" r="4.8"/><circle cx="175.9" cy="841.5" r="4.8"/><circle cx="182.9" cy="845.4" r="4.8"/><circle cx="189.0" cy="832.3" r="4.8"/><circle cx="189.5" cy="832.8" r="4.8"/><circle cx="197.5" cy="834.7" r="4.8"/><circle cx="200.3" cy="833.3" r="4.8"/><circle cx="208.3" cy="827.9" r="4.8"/><circle cx="207.4" cy="833.7" r="4.8"/><circle cx="210.6" cy="836.7" r="4.8"/><circle cx="215.5" cy="835.7" r="4.8"/><circle cx="131.7" cy="852.2" r="4.8"/><circle cx="145.4" cy="852.2" r="4.8"/><circle cx="139.7" cy="862.4" r="4.8"/><circle cx="158.5" cy="862.4" r="4.8"/><circle cx="133.1" cy="871.7" r="4.8"/><circle cx="171.2" cy="852.2" r="4.8"/><circle cx="176.8" cy="860.0" r="4.8"/><circle cx="196.1" cy="855.1" r="4.8"/><circle cx="202.2" cy="850.3" r="4.8"/><circle cx="205.0" cy="854.1" r="4.8"/><circle cx="211.6" cy="847.3" r="4.8"/><circle cx="184.3" cy="868.7" r="4.8"/><circle cx="182.5" cy="875.1" r="4.8"/><circle cx="186.2" cy="873.6" r="4.8"/><circle cx="184.8" cy="878.9" r="4.8"/><circle cx="190.0" cy="877.5" r="4.8"/><circle cx="193.7" cy="874.6" r="4.8"/><circle cx="197.5" cy="870.2" r="4.8"/><circle cx="159.4" cy="878.0" r="4.8"/><circle cx="156.2" cy="881.9" r="4.8"/><circle cx="171.2" cy="878.9" r="4.8"/><circle cx="174.9" cy="881.4" r="4.8"/><circle cx="176.4" cy="885.8" r="4.8"/><circle cx="172.6" cy="889.7" r="4.8"/><circle cx="180.1" cy="893.5" r="4.8"/><circle cx="183.9" cy="892.6" r="4.8"/><circle cx="182.9" cy="898.4" r="4.8"/><circle cx="178.7" cy="900.8" r="4.8"/><circle cx="186.2" cy="901.8" r="4.8"/><circle cx="181.5" cy="905.7" r="4.8"/><circle cx="187.6" cy="907.6" r="4.8"/><circle cx="193.7" cy="889.2" r="4.8"/><circle cx="200.8" cy="892.1" r="4.8"/><circle cx="202.2" cy="896.0" r="4.8"/><circle cx="206.4" cy="896.0" r="4.8"/><circle cx="209.7" cy="885.3" r="4.8"/><circle cx="214.4" cy="878.9" r="4.8"/><circle cx="147.2" cy="898.9" r="4.8"/><circle cx="129.8" cy="904.7" r="4.8"/><circle cx="115.3" cy="907.1" r="4.8"/><circle cx="122.8" cy="908.6" r="4.8"/><circle cx="139.2" cy="912.5" r="4.8"/><circle cx="139.2" cy="915.9" r="4.8"/><circle cx="138.8" cy="920.3" r="4.8"/><circle cx="137.8" cy="922.2" r="4.8"/><circle cx="156.2" cy="904.2" r="4.8"/><circle cx="159.9" cy="905.7" r="4.8"/><circle cx="158.5" cy="909.6" r="4.8"/><circle cx="165.1" cy="899.9" r="4.8"/><circle cx="168.8" cy="898.9" r="4.8"/><circle cx="161.8" cy="914.5" r="4.8"/><circle cx="166.5" cy="915.4" r="4.8"/><circle cx="169.3" cy="917.4" r="4.8"/><circle cx="173.1" cy="914.5" r="4.8"/><circle cx="176.8" cy="909.6" r="4.8"/><circle cx="182.5" cy="908.6" r="4.8"/><circle cx="194.2" cy="909.1" r="4.8"/><circle cx="201.3" cy="913.5" r="4.8"/><circle cx="204.1" cy="914.5" r="4.8"/><circle cx="215.4" cy="907.6" r="4.8"/><circle cx="215.8" cy="918.3" r="4.8"/><circle cx="186.2" cy="917.9" r="4.8"/><circle cx="206.7" cy="925.6" r="4.8"/><circle cx="203.8" cy="924.9" r="4.8"/><circle cx="156.9" cy="927.6" r="4.8"/><circle cx="131.5" cy="928.8" r="4.8"/><circle cx="167.4" cy="924.2" r="4.8"/><circle cx="221.0" cy="828.4" r="4.8"/><circle cx="268.4" cy="831.3" r="4.8"/><circle cx="276.4" cy="829.9" r="4.8"/><circle cx="283.0" cy="829.9" r="4.8"/><circle cx="285.3" cy="834.7" r="4.8"/><circle cx="261.9" cy="838.1" r="4.8"/><circle cx="292.9" cy="842.5" r="4.8"/><circle cx="319.2" cy="828.9" r="4.8"/><circle cx="262.3" cy="855.6" r="4.8"/><circle cx="264.2" cy="856.1" r="4.8"/><circle cx="274.1" cy="856.1" r="4.8"/><circle cx="280.2" cy="853.2" r="4.8"/><circle cx="284.9" cy="852.2" r="4.8"/><circle cx="262.3" cy="865.3" r="4.8"/><circle cx="275.5" cy="865.8" r="4.8"/><circle cx="289.6" cy="866.3" r="4.8"/><circle cx="300.8" cy="863.9" r="4.8"/><circle cx="340.8" cy="861.5" r="4.8"/><circle cx="340.8" cy="880.9" r="4.8"/><circle cx="342.2" cy="881.9" r="4.8"/><circle cx="227.6" cy="870.7" r="4.8"/><circle cx="222.4" cy="876.5" r="4.8"/><circle cx="242.1" cy="891.6" r="4.8"/><circle cx="257.2" cy="891.6" r="4.8"/><circle cx="264.7" cy="891.1" r="4.8"/><circle cx="291.0" cy="886.7" r="4.8"/><circle cx="299.4" cy="889.2" r="4.8"/><circle cx="277.4" cy="899.9" r="4.8"/><circle cx="288.2" cy="906.7" r="4.8"/><circle cx="240.7" cy="908.6" r="4.8"/><circle cx="246.4" cy="911.1" r="4.8"/><circle cx="225.2" cy="911.5" r="4.8"/><circle cx="221.0" cy="913.0" r="4.8"/><circle cx="223.3" cy="916.4" r="4.8"/><circle cx="233.7" cy="919.8" r="4.8"/><circle cx="262.3" cy="923.2" r="4.8"/><circle cx="240.7" cy="929.8" r="4.8"/><circle cx="300.4" cy="931.2" r="4.8"/><circle cx="396.7" cy="839.6" r="4.8"/><circle cx="398.6" cy="858.8" r="4.8"/><circle cx="425.8" cy="852.2" r="4.8"/><circle cx="427.7" cy="854.1" r="4.8"/><circle cx="433.3" cy="860.5" r="4.8"/><circle cx="377.4" cy="869.7" r="4.8"/><circle cx="378.8" cy="870.7" r="4.8"/><circle cx="384.5" cy="872.6" r="4.8"/><circle cx="398.1" cy="882.9" r="4.8"/><circle cx="399.5" cy="891.1" r="4.8"/><circle cx="356.3" cy="899.4" r="4.8"/><circle cx="430.5" cy="893.5" r="4.8"/><circle cx="448.4" cy="898.9" r="4.8"/><circle cx="467.2" cy="892.6" r="4.8"/><circle cx="405.1" cy="915.4" r="4.8"/><circle cx="438.0" cy="925.1" r="4.8"/><circle cx="134.5" cy="933.9" r="4.8"/><circle cx="127.0" cy="936.3" r="4.8"/><circle cx="129.4" cy="942.7" r="4.8"/><circle cx="140.2" cy="940.2" r="4.8"/><circle cx="140.7" cy="944.6" r="4.8"/><circle cx="146.3" cy="948.0" r="4.8"/><circle cx="118.6" cy="945.1" r="4.8"/><circle cx="110.6" cy="954.3" r="4.8"/><circle cx="127.0" cy="954.8" r="4.8"/><circle cx="162.3" cy="931.9" r="4.8"/><circle cx="163.7" cy="935.9" r="4.8"/><circle cx="155.7" cy="940.2" r="4.8"/><circle cx="159.9" cy="938.8" r="4.8"/><circle cx="163.7" cy="939.7" r="4.8"/><circle cx="159.0" cy="945.1" r="4.8"/><circle cx="162.7" cy="946.5" r="4.8"/><circle cx="166.5" cy="943.6" r="4.8"/><circle cx="160.4" cy="950.4" r="4.8"/><circle cx="167.4" cy="953.3" r="4.8"/><circle cx="172.1" cy="947.5" r="4.8"/><circle cx="173.5" cy="947.0" r="4.8"/><circle cx="177.8" cy="951.4" r="4.8"/><circle cx="178.7" cy="954.3" r="4.8"/><circle cx="183.4" cy="955.3" r="4.8"/><circle cx="184.3" cy="945.1" r="4.8"/><circle cx="187.6" cy="945.6" r="4.8"/><circle cx="190.0" cy="945.1" r="4.8"/><circle cx="191.4" cy="957.7" r="4.8"/><circle cx="197.5" cy="933.4" r="4.8"/><circle cx="196.6" cy="936.8" r="4.8"/><circle cx="200.8" cy="937.8" r="4.8"/><circle cx="198.9" cy="943.1" r="4.8"/><circle cx="211.6" cy="934.9" r="4.8"/><circle cx="214.4" cy="942.7" r="4.8"/><circle cx="206.9" cy="960.1" r="4.8"/><circle cx="216.5" cy="959.9" r="4.8"/><circle cx="210.6" cy="969.9" r="4.8"/><circle cx="215.6" cy="971.1" r="4.8"/><circle cx="177.8" cy="961.1" r="4.8"/><circle cx="178.7" cy="965.0" r="4.8"/><circle cx="186.2" cy="967.5" r="4.8"/><circle cx="190.4" cy="970.9" r="4.8"/><circle cx="193.7" cy="975.2" r="4.8"/><circle cx="198.0" cy="978.6" r="4.8"/><circle cx="205.0" cy="980.6" r="4.8"/><circle cx="208.3" cy="986.4" r="4.8"/><circle cx="210.6" cy="992.3" r="4.8"/><circle cx="213.9" cy="994.9" r="4.8"/><circle cx="199.4" cy="989.3" r="4.8"/><circle cx="205.0" cy="992.3" r="4.8"/><circle cx="147.2" cy="958.7" r="4.8"/><circle cx="149.6" cy="965.0" r="4.8"/><circle cx="137.8" cy="960.6" r="4.8"/><circle cx="119.5" cy="965.0" r="4.8"/><circle cx="120.9" cy="968.9" r="4.8"/><circle cx="124.2" cy="972.3" r="4.8"/><circle cx="124.7" cy="976.7" r="4.8"/><circle cx="107.8" cy="970.9" r="4.8"/><circle cx="111.1" cy="972.3" r="4.8"/><circle cx="159.9" cy="965.0" r="4.8"/><circle cx="163.7" cy="967.0" r="4.8"/><circle cx="157.1" cy="968.9" r="4.8"/><circle cx="162.7" cy="970.4" r="4.8"/><circle cx="159.9" cy="974.7" r="4.8"/><circle cx="165.1" cy="977.7" r="4.8"/><circle cx="168.4" cy="974.7" r="4.8"/><circle cx="171.2" cy="971.8" r="4.8"/><circle cx="166.5" cy="982.5" r="4.8"/><circle cx="168.4" cy="986.4" r="4.8"/><circle cx="163.7" cy="980.1" r="4.8"/><circle cx="173.1" cy="975.7" r="4.8"/><circle cx="176.8" cy="979.6" r="4.8"/><circle cx="178.7" cy="983.5" r="4.8"/><circle cx="181.1" cy="974.7" r="4.8"/><circle cx="182.5" cy="987.4" r="4.8"/><circle cx="175.4" cy="972.8" r="4.8"/><circle cx="95.1" cy="988.3" r="4.8"/><circle cx="107.3" cy="987.4" r="4.8"/><circle cx="122.3" cy="986.9" r="4.8"/><circle cx="124.7" cy="991.3" r="4.8"/><circle cx="129.8" cy="998.1" r="4.8"/><circle cx="134.5" cy="991.3" r="4.8"/><circle cx="137.4" cy="992.3" r="4.8"/><circle cx="137.4" cy="996.1" r="4.8"/><circle cx="135.5" cy="1001.0" r="4.8"/><circle cx="138.3" cy="1004.9" r="4.8"/><circle cx="136.4" cy="1007.8" r="4.8"/><circle cx="141.1" cy="1008.8" r="4.8"/><circle cx="112.5" cy="1000.0" r="4.8"/><circle cx="112.7" cy="1000.2" r="4.8"/><circle cx="101.7" cy="1010.2" r="4.8"/><circle cx="113.4" cy="1012.2" r="4.8"/><circle cx="120.0" cy="1013.1" r="4.8"/><circle cx="109.6" cy="1022.4" r="4.8"/><circle cx="112.5" cy="1024.3" r="4.8"/><circle cx="147.7" cy="988.3" r="4.8"/><circle cx="155.7" cy="991.8" r="4.8"/><circle cx="150.5" cy="1002.9" r="4.8"/><circle cx="144.9" cy="1001.0" r="4.8"/><circle cx="158.0" cy="1004.4" r="4.8"/><circle cx="163.7" cy="998.1" r="4.8"/><circle cx="164.6" cy="1008.8" r="4.8"/><circle cx="164.6" cy="1011.7" r="4.8"/><circle cx="171.2" cy="996.1" r="4.8"/><circle cx="185.3" cy="996.1" r="4.8"/><circle cx="181.1" cy="1008.8" r="4.8"/><circle cx="186.7" cy="1005.9" r="4.8"/><circle cx="158.0" cy="1019.0" r="4.8"/><circle cx="138.8" cy="1024.3" r="4.8"/><circle cx="247.8" cy="936.3" r="4.8"/><circle cx="258.6" cy="941.7" r="4.8"/><circle cx="263.7" cy="936.3" r="4.8"/><circle cx="218.2" cy="933.9" r="4.8"/><circle cx="224.7" cy="939.7" r="4.8"/><circle cx="219.6" cy="942.2" r="4.8"/><circle cx="220.5" cy="943.6" r="4.8"/><circle cx="269.4" cy="955.8" r="4.8"/><circle cx="278.3" cy="970.4" r="4.8"/><circle cx="305.6" cy="986.4" r="4.8"/><circle cx="336.6" cy="972.3" r="4.8"/><circle cx="215.8" cy="982.0" r="4.8"/><circle cx="398.4" cy="989.1" r="4.8"/><circle cx="398.6" cy="1010.2" r="4.8"/><circle cx="182.0" cy="896.9" r="4.8"/><circle cx="180.1" cy="902.3" r="4.8"/><circle cx="184.3" cy="903.8" r="4.8"/><circle cx="429.2" cy="707.9" r="4.8"/><circle cx="437.4" cy="671.2" r="4.8"/><circle cx="214.6" cy="796.7" r="4.8"/><circle cx="216.1" cy="798.5" r="4.8"/><circle cx="213.7" cy="799.1" r="4.8"/><circle cx="309.0" cy="835.1" r="4.8"/><circle cx="311.5" cy="845.5" r="4.8"/><circle cx="222.8" cy="801.1" r="4.8"/><circle cx="268.9" cy="791.9" r="4.8"/><circle cx="293.1" cy="777.2" r="4.8"/><circle cx="256.0" cy="825.0" r="4.8"/><circle cx="233.0" cy="831.6" r="4.8"/><circle cx="226.6" cy="858.0" r="4.8"/><circle cx="236.9" cy="856.7" r="4.8"/><circle cx="217.6" cy="889.8" r="4.8"/></g><g fill-opacity="0.8" stroke="#000" stroke-opacity="0.92" stroke-width="1.8"><circle cx="139.2" cy="975.5" r="11.45" fill="#370058"/><circle cx="179.2" cy="931.0" r="11.45" fill="#2e7488"/><circle cx="222.4" cy="890.9" r="11.45" fill="#3b1d76"/><circle cx="220.7" cy="858.6" r="11.45" fill="#315b87"/><circle cx="217.1" cy="859.9" r="11.45" fill="#51d078"/><circle cx="233.1" cy="857.9" r="11.45" fill="#33a088"/><circle cx="237.1" cy="835.4" r="11.45" fill="#3cb884"/><circle cx="250.9" cy="827.9" r="11.45" fill="#339a88"/><circle cx="227.8" cy="797.8" r="11.45" fill="#306c88"/><circle cx="273.2" cy="785.1" r="11.45" fill="#3b1d76"/><circle cx="298.6" cy="781.2" r="11.45" fill="#315b87"/><circle cx="324.7" cy="767.1" r="11.45" fill="#3a035f"/><circle cx="309.8" cy="840.9" r="11.45" fill="#2e7488"/><circle cx="314.2" cy="708.3" r="11.45" fill="#e2f023"/><circle cx="394.3" cy="695.2" r="11.45" fill="#6de265"/><circle cx="439.0" cy="676.2" r="11.45" fill="#5fdb6e"/><circle cx="422.5" cy="676.2" r="11.45" fill="#a1eb3a"/><circle cx="424.9" cy="713.9" r="11.45" fill="#b4ec2b"/></g></g>
<line x1="236.55" y1="1029.20" x2="236.55" y2="1035.20" stroke="#262626" stroke-width="1.6" fill="none"/>
<text x="218.08" y="1060.10" font-size="28.20" textLength="36.49" lengthAdjust="spacingAndGlyphs">−2</text>
<line x1="391.72" y1="1029.20" x2="391.72" y2="1035.20" stroke="#262626" stroke-width="1.6" fill="none"/>
<text x="383.46" y="1060.10" font-size="28.20" textLength="16.52" lengthAdjust="spacingAndGlyphs">0</text>
<line x1="82.60" y1="1029.20" x2="88.60" y2="1029.20" stroke="#262626" stroke-width="1.6" fill="none"/>
<text x="35.05" y="1039.10" font-size="28.20" textLength="40.90" lengthAdjust="spacingAndGlyphs">0.0</text>
<line x1="82.60" y1="861.08" x2="88.60" y2="861.08" stroke="#262626" stroke-width="1.6" fill="none"/>
<text x="35.06" y="870.98" font-size="28.20" textLength="40.60" lengthAdjust="spacingAndGlyphs">0.4</text>
<line x1="82.60" y1="692.96" x2="88.60" y2="692.96" stroke="#262626" stroke-width="1.6" fill="none"/>
<text x="35.05" y="702.86" font-size="28.20" textLength="41.04" lengthAdjust="spacingAndGlyphs">0.8</text>
<text x="164.13" y="1092.00" font-size="27.40" textLength="237.48" lengthAdjust="spacingAndGlyphs">ln( chla [mg/m3] )</text>
<g transform="translate(22.30 819.05) rotate(-90)"><text x="-25.65" y="0.00" font-size="27.00" textLength="15.11" lengthAdjust="spacingAndGlyphs">Γ</text><text x="-11.27" y="5.00" font-size="20.60" font-style="italic" textLength="37.67" lengthAdjust="spacingAndGlyphs">chla</text></g>
<text x="37.11" y="598.60" font-size="50.00" textLength="25.74" lengthAdjust="spacingAndGlyphs">c</text>
<text x="64.93" y="598.60" font-size="50.00" textLength="15.20" lengthAdjust="spacingAndGlyphs">)</text>
<clipPath id="clipd"><rect x="781.00" y="607.90" width="402.50" height="421.60"/></clipPath>
<g clip-path="url(#clipd)"><g fill="#000" fill-opacity="0.2" stroke="#000" stroke-opacity="0.28" stroke-width="1.5"><circle cx="910.5" cy="690.0" r="4.8"/><circle cx="907.2" cy="709.3" r="4.8"/><circle cx="942.9" cy="618.1" r="4.8"/><circle cx="929.3" cy="628.1" r="4.8"/><circle cx="970.9" cy="616.9" r="4.8"/><circle cx="984.7" cy="612.0" r="4.8"/><circle cx="1000.8" cy="616.1" r="4.8"/><circle cx="1007.1" cy="605.7" r="4.8"/><circle cx="1011.0" cy="606.1" r="4.8"/><circle cx="1014.9" cy="618.4" r="4.8"/><circle cx="1019.8" cy="616.9" r="4.8"/><circle cx="1027.5" cy="617.3" r="4.8"/><circle cx="1029.0" cy="620.8" r="4.8"/><circle cx="998.6" cy="626.2" r="4.8"/><circle cx="1036.6" cy="630.5" r="4.8"/><circle cx="969.0" cy="636.4" r="4.8"/><circle cx="956.3" cy="640.5" r="4.8"/><circle cx="964.8" cy="641.2" r="4.8"/><circle cx="984.7" cy="643.7" r="4.8"/><circle cx="996.9" cy="634.9" r="4.8"/><circle cx="1000.3" cy="639.3" r="4.8"/><circle cx="1003.7" cy="639.3" r="4.8"/><circle cx="1004.2" cy="647.6" r="4.8"/><circle cx="942.9" cy="647.1" r="4.8"/><circle cx="974.5" cy="654.9" r="4.8"/><circle cx="982.3" cy="653.0" r="4.8"/><circle cx="982.3" cy="659.8" r="4.8"/><circle cx="1012.0" cy="656.8" r="4.8"/><circle cx="1016.4" cy="655.9" r="4.8"/><circle cx="1039.2" cy="647.9" r="4.8"/><circle cx="1040.2" cy="655.9" r="4.8"/><circle cx="924.7" cy="663.7" r="4.8"/><circle cx="936.6" cy="664.7" r="4.8"/><circle cx="936.4" cy="668.6" r="4.8"/><circle cx="951.6" cy="666.0" r="4.8"/><circle cx="977.2" cy="668.1" r="4.8"/><circle cx="924.7" cy="676.4" r="4.8"/><circle cx="936.1" cy="677.3" r="4.8"/><circle cx="936.1" cy="677.8" r="4.8"/><circle cx="929.3" cy="684.2" r="4.8"/><circle cx="960.4" cy="674.4" r="4.8"/><circle cx="962.3" cy="678.3" r="4.8"/><circle cx="966.7" cy="682.2" r="4.8"/><circle cx="971.1" cy="682.7" r="4.8"/><circle cx="975.5" cy="690.5" r="4.8"/><circle cx="985.2" cy="692.0" r="4.8"/><circle cx="987.6" cy="694.9" r="4.8"/><circle cx="990.6" cy="682.2" r="4.8"/><circle cx="1002.7" cy="674.2" r="4.8"/><circle cx="1027.5" cy="665.4" r="4.8"/><circle cx="1033.4" cy="667.1" r="4.8"/><circle cx="1038.2" cy="670.5" r="4.8"/><circle cx="1025.6" cy="676.4" r="4.8"/><circle cx="1032.4" cy="677.3" r="4.8"/><circle cx="1041.2" cy="682.2" r="4.8"/><circle cx="1043.6" cy="691.0" r="4.8"/><circle cx="1024.6" cy="688.1" r="4.8"/><circle cx="1017.3" cy="693.4" r="4.8"/><circle cx="1027.5" cy="694.9" r="4.8"/><circle cx="1025.1" cy="698.3" r="4.8"/><circle cx="1028.0" cy="699.8" r="4.8"/><circle cx="998.6" cy="699.3" r="4.8"/><circle cx="1030.9" cy="704.7" r="4.8"/><circle cx="1037.3" cy="704.7" r="4.8"/><circle cx="945.3" cy="700.8" r="4.8"/><circle cx="950.2" cy="698.8" r="4.8"/><circle cx="931.7" cy="705.6" r="4.8"/><circle cx="917.1" cy="707.6" r="4.8"/><circle cx="923.0" cy="713.4" r="4.8"/><circle cx="952.1" cy="710.5" r="4.8"/><circle cx="959.4" cy="710.5" r="4.8"/><circle cx="965.3" cy="711.5" r="4.8"/><circle cx="984.0" cy="709.0" r="4.8"/><circle cx="998.4" cy="708.6" r="4.8"/><circle cx="1043.6" cy="655.2" r="4.8"/><circle cx="1046.5" cy="612.5" r="4.8"/><circle cx="1050.4" cy="606.6" r="4.8"/><circle cx="1103.9" cy="605.7" r="4.8"/><circle cx="1109.7" cy="605.7" r="4.8"/><circle cx="1131.6" cy="606.1" r="4.8"/><circle cx="1093.2" cy="617.8" r="4.8"/><circle cx="1093.2" cy="620.3" r="4.8"/><circle cx="1073.3" cy="623.7" r="4.8"/><circle cx="1080.6" cy="626.2" r="4.8"/><circle cx="1071.3" cy="632.0" r="4.8"/><circle cx="1072.8" cy="635.4" r="4.8"/><circle cx="1050.4" cy="633.4" r="4.8"/><circle cx="1051.9" cy="643.7" r="4.8"/><circle cx="1082.0" cy="642.2" r="4.8"/><circle cx="1095.6" cy="640.8" r="4.8"/><circle cx="1094.7" cy="645.6" r="4.8"/><circle cx="1088.8" cy="651.5" r="4.8"/><circle cx="1094.2" cy="657.9" r="4.8"/><circle cx="1110.2" cy="641.2" r="4.8"/><circle cx="1115.6" cy="644.2" r="4.8"/><circle cx="1108.8" cy="648.1" r="4.8"/><circle cx="1120.5" cy="655.9" r="4.8"/><circle cx="1106.4" cy="663.2" r="4.8"/><circle cx="1121.4" cy="624.2" r="4.8"/><circle cx="1139.4" cy="630.5" r="4.8"/><circle cx="1171.0" cy="615.9" r="4.8"/><circle cx="1146.7" cy="650.1" r="4.8"/><circle cx="1159.4" cy="658.8" r="4.8"/><circle cx="1164.7" cy="667.1" r="4.8"/><circle cx="1071.8" cy="654.4" r="4.8"/><circle cx="1058.2" cy="665.7" r="4.8"/><circle cx="1066.9" cy="666.6" r="4.8"/><circle cx="1067.9" cy="669.1" r="4.8"/><circle cx="1075.7" cy="662.7" r="4.8"/><circle cx="1081.5" cy="665.2" r="4.8"/><circle cx="1076.7" cy="671.5" r="4.8"/><circle cx="1078.6" cy="672.5" r="4.8"/><circle cx="1096.6" cy="672.5" r="4.8"/><circle cx="1066.9" cy="680.8" r="4.8"/><circle cx="1082.0" cy="687.6" r="4.8"/><circle cx="1052.3" cy="691.0" r="4.8"/><circle cx="1052.3" cy="697.4" r="4.8"/><circle cx="1052.8" cy="700.8" r="4.8"/><circle cx="1067.4" cy="698.3" r="4.8"/><circle cx="1069.4" cy="700.8" r="4.8"/><circle cx="1057.2" cy="708.1" r="4.8"/><circle cx="1079.6" cy="707.6" r="4.8"/><circle cx="1098.6" cy="711.0" r="4.8"/><circle cx="1107.8" cy="716.1" r="4.8"/><circle cx="1113.6" cy="706.6" r="4.8"/><circle cx="1118.0" cy="706.1" r="4.8"/><circle cx="1123.9" cy="700.8" r="4.8"/><circle cx="1137.0" cy="704.7" r="4.8"/><circle cx="1141.9" cy="706.1" r="4.8"/><circle cx="1122.9" cy="689.6" r="4.8"/><circle cx="1046.5" cy="710.5" r="4.8"/><circle cx="1049.4" cy="712.0" r="4.8"/><circle cx="1053.3" cy="711.5" r="4.8"/><circle cx="1184.2" cy="617.8" r="4.8"/><circle cx="1177.4" cy="682.2" r="4.8"/><circle cx="906.2" cy="729.1" r="4.8"/><circle cx="903.3" cy="736.4" r="4.8"/><circle cx="897.7" cy="741.7" r="4.8"/><circle cx="893.8" cy="746.1" r="4.8"/><circle cx="910.5" cy="743.7" r="4.8"/><circle cx="888.4" cy="735.9" r="4.8"/><circle cx="904.0" cy="753.4" r="4.8"/><circle cx="892.3" cy="759.8" r="4.8"/><circle cx="904.9" cy="763.2" r="4.8"/><circle cx="865.5" cy="768.1" r="4.8"/><circle cx="864.1" cy="771.5" r="4.8"/><circle cx="888.4" cy="784.2" r="4.8"/><circle cx="889.9" cy="787.1" r="4.8"/><circle cx="893.8" cy="788.0" r="4.8"/><circle cx="908.4" cy="788.0" r="4.8"/><circle cx="911.8" cy="796.4" r="4.8"/><circle cx="910.3" cy="799.3" r="4.8"/><circle cx="912.5" cy="802.2" r="4.8"/><circle cx="875.3" cy="795.9" r="4.8"/><circle cx="871.4" cy="798.8" r="4.8"/><circle cx="862.6" cy="803.7" r="4.8"/><circle cx="868.0" cy="807.6" r="4.8"/><circle cx="868.5" cy="810.5" r="4.8"/><circle cx="887.0" cy="804.7" r="4.8"/><circle cx="856.8" cy="818.8" r="4.8"/><circle cx="869.0" cy="816.3" r="4.8"/><circle cx="873.8" cy="820.3" r="4.8"/><circle cx="894.2" cy="815.4" r="4.8"/><circle cx="887.4" cy="819.8" r="4.8"/><circle cx="904.9" cy="819.3" r="4.8"/><circle cx="913.5" cy="815.6" r="4.8"/><circle cx="940.5" cy="717.9" r="4.8"/><circle cx="957.5" cy="718.8" r="4.8"/><circle cx="969.7" cy="717.3" r="4.8"/><circle cx="978.4" cy="719.8" r="4.8"/><circle cx="992.0" cy="720.3" r="4.8"/><circle cx="1000.3" cy="718.3" r="4.8"/><circle cx="1028.0" cy="718.3" r="4.8"/><circle cx="1029.0" cy="722.2" r="4.8"/><circle cx="1037.8" cy="715.9" r="4.8"/><circle cx="1046.3" cy="721.9" r="4.8"/><circle cx="919.1" cy="723.7" r="4.8"/><circle cx="918.1" cy="727.1" r="4.8"/><circle cx="926.8" cy="737.8" r="4.8"/><circle cx="929.3" cy="738.8" r="4.8"/><circle cx="931.2" cy="740.3" r="4.8"/><circle cx="949.2" cy="739.3" r="4.8"/><circle cx="954.1" cy="739.8" r="4.8"/><circle cx="961.9" cy="740.7" r="4.8"/><circle cx="963.3" cy="732.5" r="4.8"/><circle cx="975.0" cy="735.9" r="4.8"/><circle cx="975.0" cy="738.8" r="4.8"/><circle cx="967.2" cy="746.6" r="4.8"/><circle cx="966.7" cy="750.5" r="4.8"/><circle cx="980.4" cy="749.1" r="4.8"/><circle cx="985.7" cy="749.6" r="4.8"/><circle cx="981.8" cy="754.4" r="4.8"/><circle cx="979.4" cy="753.0" r="4.8"/><circle cx="989.6" cy="756.9" r="4.8"/><circle cx="974.5" cy="753.4" r="4.8"/><circle cx="928.3" cy="755.4" r="4.8"/><circle cx="934.6" cy="758.8" r="4.8"/><circle cx="935.6" cy="757.8" r="4.8"/><circle cx="942.9" cy="755.9" r="4.8"/><circle cx="927.8" cy="765.2" r="4.8"/><circle cx="966.2" cy="759.8" r="4.8"/><circle cx="967.7" cy="763.2" r="4.8"/><circle cx="976.0" cy="766.1" r="4.8"/><circle cx="1001.8" cy="755.9" r="4.8"/><circle cx="1001.3" cy="762.2" r="4.8"/><circle cx="1008.6" cy="723.7" r="4.8"/><circle cx="1013.4" cy="725.1" r="4.8"/><circle cx="1011.5" cy="729.1" r="4.8"/><circle cx="1015.4" cy="731.5" r="4.8"/><circle cx="1020.2" cy="729.1" r="4.8"/><circle cx="1019.3" cy="736.4" r="4.8"/><circle cx="1013.4" cy="736.4" r="4.8"/><circle cx="1006.1" cy="734.9" r="4.8"/><circle cx="1024.1" cy="725.1" r="4.8"/><circle cx="1036.8" cy="733.9" r="4.8"/><circle cx="1033.9" cy="743.7" r="4.8"/><circle cx="1030.0" cy="742.7" r="4.8"/><circle cx="1025.1" cy="749.6" r="4.8"/><circle cx="1036.8" cy="752.5" r="4.8"/><circle cx="1031.9" cy="753.4" r="4.8"/><circle cx="934.6" cy="772.0" r="4.8"/><circle cx="940.5" cy="774.4" r="4.8"/><circle cx="939.0" cy="776.8" r="4.8"/><circle cx="952.6" cy="774.4" r="4.8"/><circle cx="953.1" cy="777.8" r="4.8"/><circle cx="954.6" cy="784.2" r="4.8"/><circle cx="918.1" cy="782.7" r="4.8"/><circle cx="935.6" cy="788.6" r="4.8"/><circle cx="945.3" cy="792.9" r="4.8"/><circle cx="984.7" cy="772.0" r="4.8"/><circle cx="980.4" cy="773.0" r="4.8"/><circle cx="1008.6" cy="773.9" r="4.8"/><circle cx="1019.8" cy="782.2" r="4.8"/><circle cx="1021.7" cy="786.6" r="4.8"/><circle cx="1043.6" cy="779.0" r="4.8"/><circle cx="1011.5" cy="795.9" r="4.8"/><circle cx="1016.4" cy="799.3" r="4.8"/><circle cx="979.4" cy="795.4" r="4.8"/><circle cx="985.2" cy="795.4" r="4.8"/><circle cx="987.6" cy="797.8" r="4.8"/><circle cx="995.4" cy="794.9" r="4.8"/><circle cx="954.1" cy="798.3" r="4.8"/><circle cx="962.3" cy="800.3" r="4.8"/><circle cx="957.0" cy="799.3" r="4.8"/><circle cx="944.4" cy="803.2" r="4.8"/><circle cx="937.5" cy="812.0" r="4.8"/><circle cx="945.8" cy="812.0" r="4.8"/><circle cx="958.0" cy="810.0" r="4.8"/><circle cx="959.9" cy="812.9" r="4.8"/><circle cx="958.0" cy="814.9" r="4.8"/><circle cx="972.1" cy="809.0" r="4.8"/><circle cx="975.5" cy="812.9" r="4.8"/><circle cx="928.8" cy="819.8" r="4.8"/><circle cx="1034.8" cy="808.1" r="4.8"/><circle cx="1037.8" cy="816.8" r="4.8"/><circle cx="982.3" cy="819.8" r="4.8"/><circle cx="990.1" cy="820.3" r="4.8"/><circle cx="1006.1" cy="821.7" r="4.8"/><circle cx="1010.0" cy="822.2" r="4.8"/><circle cx="1054.8" cy="720.3" r="4.8"/><circle cx="1057.7" cy="725.7" r="4.8"/><circle cx="1067.9" cy="719.8" r="4.8"/><circle cx="1112.2" cy="725.7" r="4.8"/><circle cx="1114.1" cy="727.1" r="4.8"/><circle cx="1052.3" cy="734.9" r="4.8"/><circle cx="1051.4" cy="745.1" r="4.8"/><circle cx="1061.1" cy="748.5" r="4.8"/><circle cx="1069.4" cy="746.6" r="4.8"/><circle cx="1083.0" cy="743.2" r="4.8"/><circle cx="1106.4" cy="737.3" r="4.8"/><circle cx="1107.8" cy="750.5" r="4.8"/><circle cx="1104.9" cy="753.9" r="4.8"/><circle cx="1114.1" cy="752.0" r="4.8"/><circle cx="1089.3" cy="755.9" r="4.8"/><circle cx="1124.8" cy="759.3" r="4.8"/><circle cx="1141.4" cy="764.7" r="4.8"/><circle cx="1142.3" cy="767.1" r="4.8"/><circle cx="1070.8" cy="762.7" r="4.8"/><circle cx="1109.3" cy="766.1" r="4.8"/><circle cx="1089.3" cy="771.5" r="4.8"/><circle cx="1104.9" cy="783.7" r="4.8"/><circle cx="1081.5" cy="788.6" r="4.8"/><circle cx="1056.7" cy="791.5" r="4.8"/><circle cx="1049.4" cy="795.9" r="4.8"/><circle cx="1164.7" cy="795.4" r="4.8"/><circle cx="1104.4" cy="805.1" r="4.8"/><circle cx="1079.1" cy="814.9" r="4.8"/><circle cx="1078.1" cy="817.8" r="4.8"/><circle cx="1047.0" cy="822.2" r="4.8"/><circle cx="1135.5" cy="823.7" r="4.8"/><circle cx="1151.1" cy="821.2" r="4.8"/><circle cx="1179.8" cy="819.3" r="4.8"/><circle cx="872.8" cy="827.1" r="4.8"/><circle cx="873.3" cy="832.4" r="4.8"/><circle cx="874.3" cy="837.3" r="4.8"/><circle cx="871.4" cy="841.2" r="4.8"/><circle cx="878.7" cy="845.1" r="4.8"/><circle cx="885.0" cy="832.0" r="4.8"/><circle cx="885.5" cy="832.4" r="4.8"/><circle cx="893.8" cy="834.4" r="4.8"/><circle cx="896.7" cy="833.0" r="4.8"/><circle cx="904.9" cy="827.6" r="4.8"/><circle cx="904.0" cy="833.4" r="4.8"/><circle cx="907.4" cy="836.4" r="4.8"/><circle cx="912.4" cy="835.4" r="4.8"/><circle cx="825.7" cy="852.0" r="4.8"/><circle cx="839.8" cy="852.0" r="4.8"/><circle cx="833.9" cy="862.2" r="4.8"/><circle cx="853.4" cy="862.2" r="4.8"/><circle cx="827.1" cy="871.5" r="4.8"/><circle cx="866.5" cy="852.0" r="4.8"/><circle cx="872.4" cy="859.8" r="4.8"/><circle cx="892.3" cy="854.9" r="4.8"/><circle cx="898.6" cy="850.0" r="4.8"/><circle cx="901.5" cy="853.9" r="4.8"/><circle cx="908.4" cy="847.1" r="4.8"/><circle cx="880.1" cy="868.5" r="4.8"/><circle cx="878.2" cy="874.9" r="4.8"/><circle cx="882.1" cy="873.4" r="4.8"/><circle cx="880.6" cy="878.8" r="4.8"/><circle cx="886.0" cy="877.3" r="4.8"/><circle cx="889.9" cy="874.4" r="4.8"/><circle cx="893.8" cy="870.0" r="4.8"/><circle cx="854.4" cy="877.8" r="4.8"/><circle cx="851.0" cy="881.7" r="4.8"/><circle cx="866.5" cy="878.8" r="4.8"/><circle cx="870.4" cy="881.2" r="4.8"/><circle cx="871.9" cy="885.6" r="4.8"/><circle cx="868.0" cy="889.5" r="4.8"/><circle cx="875.8" cy="893.4" r="4.8"/><circle cx="879.7" cy="892.4" r="4.8"/><circle cx="878.7" cy="898.3" r="4.8"/><circle cx="874.3" cy="900.7" r="4.8"/><circle cx="882.1" cy="901.7" r="4.8"/><circle cx="877.2" cy="905.6" r="4.8"/><circle cx="883.5" cy="907.6" r="4.8"/><circle cx="889.9" cy="889.0" r="4.8"/><circle cx="897.2" cy="892.0" r="4.8"/><circle cx="898.6" cy="895.9" r="4.8"/><circle cx="903.0" cy="895.9" r="4.8"/><circle cx="906.4" cy="885.1" r="4.8"/><circle cx="911.3" cy="878.8" r="4.8"/><circle cx="841.7" cy="898.8" r="4.8"/><circle cx="823.7" cy="904.6" r="4.8"/><circle cx="808.6" cy="907.1" r="4.8"/><circle cx="816.4" cy="908.5" r="4.8"/><circle cx="833.4" cy="912.5" r="4.8"/><circle cx="833.4" cy="915.8" r="4.8"/><circle cx="833.0" cy="920.3" r="4.8"/><circle cx="832.0" cy="922.2" r="4.8"/><circle cx="851.0" cy="904.2" r="4.8"/><circle cx="854.8" cy="905.6" r="4.8"/><circle cx="853.4" cy="909.5" r="4.8"/><circle cx="860.2" cy="899.8" r="4.8"/><circle cx="864.1" cy="898.8" r="4.8"/><circle cx="856.8" cy="914.4" r="4.8"/><circle cx="861.7" cy="915.4" r="4.8"/><circle cx="864.6" cy="917.3" r="4.8"/><circle cx="868.5" cy="914.4" r="4.8"/><circle cx="872.4" cy="909.5" r="4.8"/><circle cx="878.2" cy="908.5" r="4.8"/><circle cx="890.4" cy="909.0" r="4.8"/><circle cx="897.7" cy="913.4" r="4.8"/><circle cx="900.6" cy="914.4" r="4.8"/><circle cx="912.3" cy="907.6" r="4.8"/><circle cx="912.7" cy="918.3" r="4.8"/><circle cx="882.1" cy="917.8" r="4.8"/><circle cx="903.2" cy="925.6" r="4.8"/><circle cx="900.3" cy="924.9" r="4.8"/><circle cx="851.7" cy="927.6" r="4.8"/><circle cx="825.4" cy="928.8" r="4.8"/><circle cx="862.6" cy="924.1" r="4.8"/><circle cx="918.1" cy="828.1" r="4.8"/><circle cx="967.2" cy="831.0" r="4.8"/><circle cx="975.5" cy="829.5" r="4.8"/><circle cx="982.3" cy="829.5" r="4.8"/><circle cx="984.7" cy="834.4" r="4.8"/><circle cx="960.4" cy="837.8" r="4.8"/><circle cx="992.5" cy="842.2" r="4.8"/><circle cx="1019.8" cy="828.6" r="4.8"/><circle cx="960.9" cy="855.4" r="4.8"/><circle cx="962.8" cy="855.9" r="4.8"/><circle cx="973.1" cy="855.9" r="4.8"/><circle cx="979.4" cy="852.9" r="4.8"/><circle cx="984.2" cy="852.0" r="4.8"/><circle cx="960.9" cy="865.1" r="4.8"/><circle cx="974.5" cy="865.6" r="4.8"/><circle cx="989.1" cy="866.1" r="4.8"/><circle cx="1000.8" cy="863.7" r="4.8"/><circle cx="1042.1" cy="861.2" r="4.8"/><circle cx="1042.1" cy="880.8" r="4.8"/><circle cx="1043.6" cy="881.7" r="4.8"/><circle cx="924.9" cy="870.5" r="4.8"/><circle cx="919.5" cy="876.3" r="4.8"/><circle cx="940.0" cy="891.5" r="4.8"/><circle cx="955.5" cy="891.5" r="4.8"/><circle cx="963.3" cy="891.0" r="4.8"/><circle cx="990.6" cy="886.6" r="4.8"/><circle cx="999.3" cy="889.0" r="4.8"/><circle cx="976.5" cy="899.8" r="4.8"/><circle cx="987.6" cy="906.6" r="4.8"/><circle cx="938.5" cy="908.5" r="4.8"/><circle cx="944.4" cy="911.0" r="4.8"/><circle cx="922.5" cy="911.5" r="4.8"/><circle cx="918.1" cy="912.9" r="4.8"/><circle cx="920.5" cy="916.3" r="4.8"/><circle cx="931.2" cy="919.8" r="4.8"/><circle cx="960.9" cy="923.2" r="4.8"/><circle cx="938.5" cy="929.7" r="4.8"/><circle cx="1000.3" cy="931.2" r="4.8"/><circle cx="1100.0" cy="839.3" r="4.8"/><circle cx="1102.0" cy="858.6" r="4.8"/><circle cx="1130.2" cy="852.0" r="4.8"/><circle cx="1132.1" cy="853.9" r="4.8"/><circle cx="1138.0" cy="860.3" r="4.8"/><circle cx="1080.1" cy="869.5" r="4.8"/><circle cx="1081.5" cy="870.5" r="4.8"/><circle cx="1087.4" cy="872.5" r="4.8"/><circle cx="1101.5" cy="882.7" r="4.8"/><circle cx="1102.9" cy="891.0" r="4.8"/><circle cx="1058.2" cy="899.3" r="4.8"/><circle cx="1135.0" cy="893.4" r="4.8"/><circle cx="1153.5" cy="898.8" r="4.8"/><circle cx="1173.0" cy="892.4" r="4.8"/><circle cx="1108.8" cy="915.4" r="4.8"/><circle cx="1142.8" cy="925.1" r="4.8"/><circle cx="828.6" cy="933.9" r="4.8"/><circle cx="820.8" cy="936.3" r="4.8"/><circle cx="823.2" cy="942.7" r="4.8"/><circle cx="834.4" cy="940.2" r="4.8"/><circle cx="834.9" cy="944.6" r="4.8"/><circle cx="840.7" cy="948.0" r="4.8"/><circle cx="812.0" cy="945.1" r="4.8"/><circle cx="803.8" cy="954.4" r="4.8"/><circle cx="820.8" cy="954.9" r="4.8"/><circle cx="857.3" cy="931.9" r="4.8"/><circle cx="858.7" cy="935.9" r="4.8"/><circle cx="850.5" cy="940.2" r="4.8"/><circle cx="854.8" cy="938.8" r="4.8"/><circle cx="858.7" cy="939.7" r="4.8"/><circle cx="853.9" cy="945.1" r="4.8"/><circle cx="857.8" cy="946.6" r="4.8"/><circle cx="861.7" cy="943.7" r="4.8"/><circle cx="855.3" cy="950.5" r="4.8"/><circle cx="862.6" cy="953.4" r="4.8"/><circle cx="867.5" cy="947.5" r="4.8"/><circle cx="869.0" cy="947.1" r="4.8"/><circle cx="873.3" cy="951.5" r="4.8"/><circle cx="874.3" cy="954.4" r="4.8"/><circle cx="879.2" cy="955.4" r="4.8"/><circle cx="880.1" cy="945.1" r="4.8"/><circle cx="883.5" cy="945.6" r="4.8"/><circle cx="886.0" cy="945.1" r="4.8"/><circle cx="887.4" cy="957.8" r="4.8"/><circle cx="893.8" cy="933.4" r="4.8"/><circle cx="892.8" cy="936.8" r="4.8"/><circle cx="897.2" cy="937.8" r="4.8"/><circle cx="895.2" cy="943.2" r="4.8"/><circle cx="908.4" cy="934.9" r="4.8"/><circle cx="911.3" cy="942.7" r="4.8"/><circle cx="903.5" cy="960.2" r="4.8"/><circle cx="913.5" cy="960.0" r="4.8"/><circle cx="907.4" cy="970.0" r="4.8"/><circle cx="912.5" cy="971.2" r="4.8"/><circle cx="873.3" cy="961.2" r="4.8"/><circle cx="874.3" cy="965.1" r="4.8"/><circle cx="882.1" cy="967.6" r="4.8"/><circle cx="886.5" cy="971.0" r="4.8"/><circle cx="889.9" cy="975.4" r="4.8"/><circle cx="894.2" cy="978.8" r="4.8"/><circle cx="901.5" cy="980.7" r="4.8"/><circle cx="904.9" cy="986.6" r="4.8"/><circle cx="907.4" cy="992.4" r="4.8"/><circle cx="910.8" cy="995.1" r="4.8"/><circle cx="895.7" cy="989.5" r="4.8"/><circle cx="901.5" cy="992.4" r="4.8"/><circle cx="841.7" cy="958.8" r="4.8"/><circle cx="844.1" cy="965.1" r="4.8"/><circle cx="832.0" cy="960.7" r="4.8"/><circle cx="813.0" cy="965.1" r="4.8"/><circle cx="814.5" cy="969.0" r="4.8"/><circle cx="817.9" cy="972.4" r="4.8"/><circle cx="818.4" cy="976.8" r="4.8"/><circle cx="800.8" cy="971.0" r="4.8"/><circle cx="804.3" cy="972.4" r="4.8"/><circle cx="854.8" cy="965.1" r="4.8"/><circle cx="858.7" cy="967.1" r="4.8"/><circle cx="851.9" cy="969.0" r="4.8"/><circle cx="857.8" cy="970.5" r="4.8"/><circle cx="854.8" cy="974.9" r="4.8"/><circle cx="860.2" cy="977.8" r="4.8"/><circle cx="863.6" cy="974.9" r="4.8"/><circle cx="866.5" cy="972.0" r="4.8"/><circle cx="861.7" cy="982.7" r="4.8"/><circle cx="863.6" cy="986.6" r="4.8"/><circle cx="858.7" cy="980.3" r="4.8"/><circle cx="868.5" cy="975.8" r="4.8"/><circle cx="872.4" cy="979.8" r="4.8"/><circle cx="874.3" cy="983.7" r="4.8"/><circle cx="876.7" cy="974.9" r="4.8"/><circle cx="878.2" cy="987.6" r="4.8"/><circle cx="870.9" cy="972.9" r="4.8"/><circle cx="787.7" cy="988.5" r="4.8"/><circle cx="800.4" cy="987.6" r="4.8"/><circle cx="815.9" cy="987.1" r="4.8"/><circle cx="818.4" cy="991.5" r="4.8"/><circle cx="823.7" cy="998.3" r="4.8"/><circle cx="828.6" cy="991.5" r="4.8"/><circle cx="831.5" cy="992.4" r="4.8"/><circle cx="831.5" cy="996.3" r="4.8"/><circle cx="829.5" cy="1001.2" r="4.8"/><circle cx="832.5" cy="1005.1" r="4.8"/><circle cx="830.5" cy="1008.0" r="4.8"/><circle cx="835.4" cy="1009.0" r="4.8"/><circle cx="805.7" cy="1000.2" r="4.8"/><circle cx="806.0" cy="1000.5" r="4.8"/><circle cx="794.5" cy="1010.5" r="4.8"/><circle cx="806.7" cy="1012.4" r="4.8"/><circle cx="813.5" cy="1013.4" r="4.8"/><circle cx="802.8" cy="1022.7" r="4.8"/><circle cx="805.7" cy="1024.6" r="4.8"/><circle cx="842.2" cy="988.5" r="4.8"/><circle cx="850.5" cy="991.9" r="4.8"/><circle cx="845.1" cy="1003.1" r="4.8"/><circle cx="839.3" cy="1001.2" r="4.8"/><circle cx="852.9" cy="1004.6" r="4.8"/><circle cx="858.7" cy="998.3" r="4.8"/><circle cx="859.7" cy="1009.0" r="4.8"/><circle cx="859.7" cy="1012.0" r="4.8"/><circle cx="866.5" cy="996.3" r="4.8"/><circle cx="881.1" cy="996.3" r="4.8"/><circle cx="876.7" cy="1009.0" r="4.8"/><circle cx="882.6" cy="1006.1" r="4.8"/><circle cx="852.9" cy="1019.3" r="4.8"/><circle cx="833.0" cy="1024.6" r="4.8"/><circle cx="945.8" cy="936.3" r="4.8"/><circle cx="957.0" cy="941.7" r="4.8"/><circle cx="962.3" cy="936.3" r="4.8"/><circle cx="915.2" cy="933.9" r="4.8"/><circle cx="922.0" cy="939.7" r="4.8"/><circle cx="916.6" cy="942.2" r="4.8"/><circle cx="917.6" cy="943.7" r="4.8"/><circle cx="968.2" cy="955.8" r="4.8"/><circle cx="977.4" cy="970.5" r="4.8"/><circle cx="1005.7" cy="986.6" r="4.8"/><circle cx="1037.8" cy="972.4" r="4.8"/><circle cx="912.7" cy="982.2" r="4.8"/><circle cx="1101.8" cy="989.3" r="4.8"/><circle cx="1102.0" cy="1010.5" r="4.8"/><circle cx="877.7" cy="896.8" r="4.8"/><circle cx="875.8" cy="902.2" r="4.8"/><circle cx="880.1" cy="903.7" r="4.8"/><circle cx="1133.7" cy="707.2" r="4.8"/><circle cx="1142.2" cy="670.4" r="4.8"/><circle cx="911.5" cy="796.3" r="4.8"/><circle cx="913.0" cy="798.1" r="4.8"/><circle cx="910.5" cy="798.7" r="4.8"/><circle cx="1009.2" cy="834.8" r="4.8"/><circle cx="1011.8" cy="845.2" r="4.8"/><circle cx="919.9" cy="800.7" r="4.8"/><circle cx="967.7" cy="791.5" r="4.8"/><circle cx="992.8" cy="776.8" r="4.8"/><circle cx="954.4" cy="824.7" r="4.8"/><circle cx="930.5" cy="831.3" r="4.8"/><circle cx="923.9" cy="857.8" r="4.8"/><circle cx="934.5" cy="856.5" r="4.8"/><circle cx="914.6" cy="889.7" r="4.8"/></g><g fill-opacity="0.8" stroke="#000" stroke-opacity="0.92" stroke-width="1.8"><circle cx="833.4" cy="975.7" r="11.45" fill="#daf018"/><circle cx="874.8" cy="931.0" r="11.45" fill="#49c77e"/><circle cx="919.5" cy="890.8" r="11.45" fill="#38b386"/><circle cx="917.8" cy="858.4" r="11.45" fill="#41be83"/><circle cx="914.1" cy="859.7" r="11.45" fill="#35a988"/><circle cx="930.6" cy="857.7" r="11.45" fill="#318a8a"/><circle cx="934.8" cy="835.1" r="11.45" fill="#7be55a"/><circle cx="949.0" cy="827.6" r="11.45" fill="#7be55a"/><circle cx="925.1" cy="797.3" r="11.45" fill="#bdee23"/><circle cx="972.2" cy="784.7" r="11.45" fill="#d2ef15"/><circle cx="998.4" cy="780.8" r="11.45" fill="#318a8a"/><circle cx="1025.5" cy="766.6" r="11.45" fill="#370058"/><circle cx="1010.0" cy="840.6" r="11.45" fill="#58d673"/><circle cx="1014.6" cy="707.6" r="11.45" fill="#49c77e"/><circle cx="1097.6" cy="694.4" r="11.45" fill="#7be55a"/><circle cx="1143.8" cy="675.4" r="11.45" fill="#373b82"/><circle cx="1126.8" cy="675.4" r="11.45" fill="#90e849"/><circle cx="1129.2" cy="713.3" r="11.45" fill="#51d078"/></g></g>
<line x1="934.21" y1="1029.50" x2="934.21" y2="1035.50" stroke="#262626" stroke-width="1.6" fill="none"/>
<text x="915.73" y="1060.40" font-size="28.20" textLength="36.49" lengthAdjust="spacingAndGlyphs">−2</text>
<line x1="1094.89" y1="1029.50" x2="1094.89" y2="1035.50" stroke="#262626" stroke-width="1.6" fill="none"/>
<text x="1086.63" y="1060.40" font-size="28.20" textLength="16.52" lengthAdjust="spacingAndGlyphs">0</text>
<line x1="775.00" y1="1029.50" x2="781.00" y2="1029.50" stroke="#262626" stroke-width="1.6" fill="none"/>
<text x="727.45" y="1039.40" font-size="28.20" textLength="40.90" lengthAdjust="spacingAndGlyphs">0.0</text>
<line x1="775.00" y1="860.86" x2="781.00" y2="860.86" stroke="#262626" stroke-width="1.6" fill="none"/>
<text x="727.46" y="870.76" font-size="28.20" textLength="40.60" lengthAdjust="spacingAndGlyphs">0.4</text>
<line x1="775.00" y1="692.22" x2="781.00" y2="692.22" stroke="#262626" stroke-width="1.6" fill="none"/>
<text x="727.45" y="702.12" font-size="28.20" textLength="41.04" lengthAdjust="spacingAndGlyphs">0.8</text>
<text x="863.43" y="1092.30" font-size="27.40" textLength="237.48" lengthAdjust="spacingAndGlyphs">ln( chla [mg/m3] )</text>
<g transform="translate(714.70 818.70) rotate(-90)"><text x="-25.65" y="0.00" font-size="27.00" textLength="15.11" lengthAdjust="spacingAndGlyphs">Γ</text><text x="-11.27" y="5.00" font-size="20.60" font-style="italic" textLength="37.67" lengthAdjust="spacingAndGlyphs">chla</text></g>
<text x="725.25" y="598.60" font-size="50.00" textLength="28.44" lengthAdjust="spacingAndGlyphs">d</text>
<text x="756.03" y="598.60" font-size="50.00" textLength="15.45" lengthAdjust="spacingAndGlyphs">)</text>
<rect x="527.70" y="37.80" width="21.30" height="432.20" fill="url(#vir)"/>
<line x1="549.00" y1="470.05" x2="552.60" y2="470.05" stroke="#000" stroke-width="1.4"/>
<line x1="549.00" y1="445.45" x2="552.60" y2="445.45" stroke="#000" stroke-width="1.4"/>
<line x1="549.00" y1="427.99" x2="552.60" y2="427.99" stroke="#000" stroke-width="1.4"/>
<line x1="549.00" y1="414.45" x2="552.60" y2="414.45" stroke="#000" stroke-width="1.4"/>
<line x1="549.00" y1="403.39" x2="552.60" y2="403.39" stroke="#000" stroke-width="1.4"/>
<line x1="549.00" y1="394.04" x2="552.60" y2="394.04" stroke="#000" stroke-width="1.4"/>
<line x1="549.00" y1="385.94" x2="552.60" y2="385.94" stroke="#000" stroke-width="1.4"/>
<line x1="549.00" y1="378.79" x2="552.60" y2="378.79" stroke="#000" stroke-width="1.4"/>
<line x1="549.00" y1="372.40" x2="555.20" y2="372.40" stroke="#000" stroke-width="1.4"/>
<line x1="549.00" y1="330.35" x2="552.60" y2="330.35" stroke="#000" stroke-width="1.4"/>
<line x1="549.00" y1="305.75" x2="552.60" y2="305.75" stroke="#000" stroke-width="1.4"/>
<line x1="549.00" y1="288.29" x2="552.60" y2="288.29" stroke="#000" stroke-width="1.4"/>
<line x1="549.00" y1="274.75" x2="552.60" y2="274.75" stroke="#000" stroke-width="1.4"/>
<line x1="549.00" y1="263.69" x2="552.60" y2="263.69" stroke="#000" stroke-width="1.4"/>
<line x1="549.00" y1="254.34" x2="552.60" y2="254.34" stroke="#000" stroke-width="1.4"/>
<line x1="549.00" y1="246.24" x2="552.60" y2="246.24" stroke="#000" stroke-width="1.4"/>
<line x1="549.00" y1="239.09" x2="552.60" y2="239.09" stroke="#000" stroke-width="1.4"/>
<line x1="549.00" y1="232.70" x2="555.20" y2="232.70" stroke="#000" stroke-width="1.4"/>
<line x1="549.00" y1="190.65" x2="552.60" y2="190.65" stroke="#000" stroke-width="1.4"/>
<line x1="549.00" y1="166.05" x2="552.60" y2="166.05" stroke="#000" stroke-width="1.4"/>
<line x1="549.00" y1="148.59" x2="552.60" y2="148.59" stroke="#000" stroke-width="1.4"/>
<line x1="549.00" y1="135.05" x2="552.60" y2="135.05" stroke="#000" stroke-width="1.4"/>
<line x1="549.00" y1="123.99" x2="552.60" y2="123.99" stroke="#000" stroke-width="1.4"/>
<line x1="549.00" y1="114.64" x2="552.60" y2="114.64" stroke="#000" stroke-width="1.4"/>
<line x1="549.00" y1="106.54" x2="552.60" y2="106.54" stroke="#000" stroke-width="1.4"/>
<line x1="549.00" y1="99.39" x2="552.60" y2="99.39" stroke="#000" stroke-width="1.4"/>
<line x1="549.00" y1="93.00" x2="555.20" y2="93.00" stroke="#000" stroke-width="1.4"/>
<line x1="549.00" y1="50.95" x2="552.60" y2="50.95" stroke="#000" stroke-width="1.4"/>
<rect x="527.70" y="37.80" width="21.30" height="432.20" stroke="#000" stroke-width="1.5" fill="none"/>
<g transform="translate(650.20 255.70) rotate(-90)"><text x="-46.24" y="0.00" font-size="27.40" textLength="91.32" lengthAdjust="spacingAndGlyphs">Nitrate</text></g>
<text x="561.15" y="381.90" font-size="28.20" textLength="32.80" lengthAdjust="spacingAndGlyphs">10</text>
<text x="594.91" y="372.10" font-size="19.00" textLength="14.06" lengthAdjust="spacingAndGlyphs">−</text>
<text x="610.25" y="372.10" font-size="19.00">1</text>
<text x="561.15" y="242.20" font-size="28.20" textLength="32.80" lengthAdjust="spacingAndGlyphs">10</text>
<text x="595.36" y="232.40" font-size="19.00">0</text>
<text x="561.15" y="102.50" font-size="28.20" textLength="32.80" lengthAdjust="spacingAndGlyphs">10</text>
<text x="594.65" y="92.70" font-size="19.00">1</text>
<rect x="1219.40" y="37.80" width="21.90" height="431.80" fill="url(#vir)"/>
<line x1="1241.30" y1="468.73" x2="1244.90" y2="468.73" stroke="#000" stroke-width="1.4"/>
<line x1="1241.30" y1="443.31" x2="1244.90" y2="443.31" stroke="#000" stroke-width="1.4"/>
<line x1="1241.30" y1="421.82" x2="1244.90" y2="421.82" stroke="#000" stroke-width="1.4"/>
<line x1="1241.30" y1="403.21" x2="1244.90" y2="403.21" stroke="#000" stroke-width="1.4"/>
<line x1="1241.30" y1="386.79" x2="1244.90" y2="386.79" stroke="#000" stroke-width="1.4"/>
<line x1="1241.30" y1="372.10" x2="1247.50" y2="372.10" stroke="#000" stroke-width="1.4"/>
<line x1="1241.30" y1="275.47" x2="1244.90" y2="275.47" stroke="#000" stroke-width="1.4"/>
<line x1="1241.30" y1="218.94" x2="1244.90" y2="218.94" stroke="#000" stroke-width="1.4"/>
<line x1="1241.30" y1="178.84" x2="1244.90" y2="178.84" stroke="#000" stroke-width="1.4"/>
<line x1="1241.30" y1="147.73" x2="1244.90" y2="147.73" stroke="#000" stroke-width="1.4"/>
<line x1="1241.30" y1="122.31" x2="1244.90" y2="122.31" stroke="#000" stroke-width="1.4"/>
<line x1="1241.30" y1="100.82" x2="1244.90" y2="100.82" stroke="#000" stroke-width="1.4"/>
<line x1="1241.30" y1="82.21" x2="1244.90" y2="82.21" stroke="#000" stroke-width="1.4"/>
<line x1="1241.30" y1="65.79" x2="1244.90" y2="65.79" stroke="#000" stroke-width="1.4"/>
<line x1="1241.30" y1="51.10" x2="1247.50" y2="51.10" stroke="#000" stroke-width="1.4"/>
<rect x="1219.40" y="37.80" width="21.90" height="431.80" stroke="#000" stroke-width="1.5" fill="none"/>
<g transform="translate(1342.30 256.50) rotate(-90)"><text x="-69.78" y="0.00" font-size="27.40" textLength="138.46" lengthAdjust="spacingAndGlyphs">Phosphate</text></g>
<text x="1253.38" y="381.60" font-size="28.20" textLength="32.35" lengthAdjust="spacingAndGlyphs">10</text>
<text x="1286.51" y="371.80" font-size="19.00" textLength="14.06" lengthAdjust="spacingAndGlyphs">−</text>
<text x="1301.85" y="371.80" font-size="19.00">1</text>
<text x="1253.38" y="60.60" font-size="28.20" textLength="32.35" lengthAdjust="spacingAndGlyphs">10</text>
<text x="1286.96" y="50.80" font-size="19.00">0</text>
<text x="531.91" y="618.80" font-size="28.20" textLength="16.27" lengthAdjust="spacingAndGlyphs">6</text>
<text x="554.75" y="621.10" font-size="32.00" textLength="19.78" lengthAdjust="spacingAndGlyphs">×</text>
<text x="581.39" y="618.40" font-size="28.20" textLength="32.24" lengthAdjust="spacingAndGlyphs">10</text>
<text x="614.16" y="608.60" font-size="19.00">0</text>
<text x="532.79" y="713.91" font-size="28.20" textLength="14.90" lengthAdjust="spacingAndGlyphs">4</text>
<text x="554.75" y="716.21" font-size="32.00" textLength="19.78" lengthAdjust="spacingAndGlyphs">×</text>
<text x="581.39" y="713.51" font-size="28.20" textLength="32.24" lengthAdjust="spacingAndGlyphs">10</text>
<text x="614.16" y="703.71" font-size="19.00">0</text>
<text x="532.32" y="781.39" font-size="28.20" textLength="15.84" lengthAdjust="spacingAndGlyphs">3</text>
<text x="554.75" y="783.69" font-size="32.00" textLength="19.78" lengthAdjust="spacingAndGlyphs">×</text>
<text x="581.39" y="780.99" font-size="28.20" textLength="32.24" lengthAdjust="spacingAndGlyphs">10</text>
<text x="614.16" y="771.19" font-size="19.00">0</text>
<text x="531.91" y="876.51" font-size="28.20" textLength="16.48" lengthAdjust="spacingAndGlyphs">2</text>
<text x="554.75" y="878.81" font-size="32.00" textLength="19.78" lengthAdjust="spacingAndGlyphs">×</text>
<text x="581.39" y="876.11" font-size="28.20" textLength="32.24" lengthAdjust="spacingAndGlyphs">10</text>
<text x="614.16" y="866.31" font-size="19.00">0</text>
<text x="534.46" y="1038.70" font-size="28.20" textLength="32.69" lengthAdjust="spacingAndGlyphs">10</text>
<text x="568.16" y="1028.90" font-size="19.00">0</text>
<rect x="501.70" y="608.90" width="20.60" height="420.30" fill="url(#vir)"/>
<line x1="522.30" y1="608.90" x2="525.90" y2="608.90" stroke="#000" stroke-width="1.4"/>
<line x1="522.30" y1="651.67" x2="525.90" y2="651.67" stroke="#000" stroke-width="1.4"/>
<line x1="522.30" y1="704.01" x2="525.90" y2="704.01" stroke="#000" stroke-width="1.4"/>
<line x1="522.30" y1="771.49" x2="525.90" y2="771.49" stroke="#000" stroke-width="1.4"/>
<line x1="522.30" y1="866.61" x2="525.90" y2="866.61" stroke="#000" stroke-width="1.4"/>
<line x1="522.30" y1="1029.20" x2="528.50" y2="1029.20" stroke="#000" stroke-width="1.4"/>
<rect x="501.70" y="608.90" width="20.60" height="420.30" stroke="#000" stroke-width="1.5" fill="none"/>
<g transform="translate(654.40 821.50) rotate(-90)"><text x="-47.90" y="0.00" font-size="27.40" textLength="95.77" lengthAdjust="spacingAndGlyphs">Silicate</text></g>
<text x="1242.40" y="1039.40" font-size="28.20" textLength="58.17" lengthAdjust="spacingAndGlyphs">99.0</text>
<text x="1242.40" y="986.70" font-size="28.20" textLength="58.26" lengthAdjust="spacingAndGlyphs">99.5</text>
<text x="1241.55" y="934.00" font-size="28.20" textLength="73.90" lengthAdjust="spacingAndGlyphs">100.0</text>
<text x="1241.55" y="881.30" font-size="28.20" textLength="73.99" lengthAdjust="spacingAndGlyphs">100.5</text>
<text x="1241.55" y="828.60" font-size="28.20" textLength="73.90" lengthAdjust="spacingAndGlyphs">101.0</text>
<text x="1241.55" y="775.90" font-size="28.20" textLength="73.99" lengthAdjust="spacingAndGlyphs">101.5</text>
<text x="1241.55" y="723.20" font-size="28.20" textLength="73.90" lengthAdjust="spacingAndGlyphs">102.0</text>
<text x="1241.55" y="670.50" font-size="28.20" textLength="73.99" lengthAdjust="spacingAndGlyphs">102.5</text>
<text x="1241.55" y="617.80" font-size="28.20" textLength="73.90" lengthAdjust="spacingAndGlyphs">103.0</text>
<rect x="1208.60" y="607.90" width="21.10" height="421.60" fill="url(#vir)"/>
<line x1="1229.70" y1="1029.50" x2="1235.90" y2="1029.50" stroke="#000" stroke-width="1.4"/>
<line x1="1229.70" y1="976.80" x2="1235.90" y2="976.80" stroke="#000" stroke-width="1.4"/>
<line x1="1229.70" y1="924.10" x2="1235.90" y2="924.10" stroke="#000" stroke-width="1.4"/>
<line x1="1229.70" y1="871.40" x2="1235.90" y2="871.40" stroke="#000" stroke-width="1.4"/>
<line x1="1229.70" y1="818.70" x2="1235.90" y2="818.70" stroke="#000" stroke-width="1.4"/>
<line x1="1229.70" y1="766.00" x2="1235.90" y2="766.00" stroke="#000" stroke-width="1.4"/>
<line x1="1229.70" y1="713.30" x2="1235.90" y2="713.30" stroke="#000" stroke-width="1.4"/>
<line x1="1229.70" y1="660.60" x2="1235.90" y2="660.60" stroke="#000" stroke-width="1.4"/>
<line x1="1229.70" y1="607.90" x2="1235.90" y2="607.90" stroke="#000" stroke-width="1.4"/>
<rect x="1208.60" y="607.90" width="21.10" height="421.60" stroke="#000" stroke-width="1.5" fill="none"/>
<g transform="translate(1343.80 819.00) rotate(-90)"><text x="-91.66" y="0.00" font-size="27.40" textLength="183.85" lengthAdjust="spacingAndGlyphs">O2 Saturation</text></g>
<rect x="88.10" y="37.80" width="413.70" height="432.20" stroke="#262626" stroke-width="1.6" fill="none"/>
<rect x="780.40" y="37.80" width="413.70" height="431.80" stroke="#262626" stroke-width="1.6" fill="none"/>
<rect x="88.60" y="608.90" width="388.70" height="420.30" stroke="#262626" stroke-width="1.6" fill="none"/>
<rect x="781.00" y="607.90" width="402.50" height="421.60" stroke="#262626" stroke-width="1.6" fill="none"/>
</svg></body></html>
